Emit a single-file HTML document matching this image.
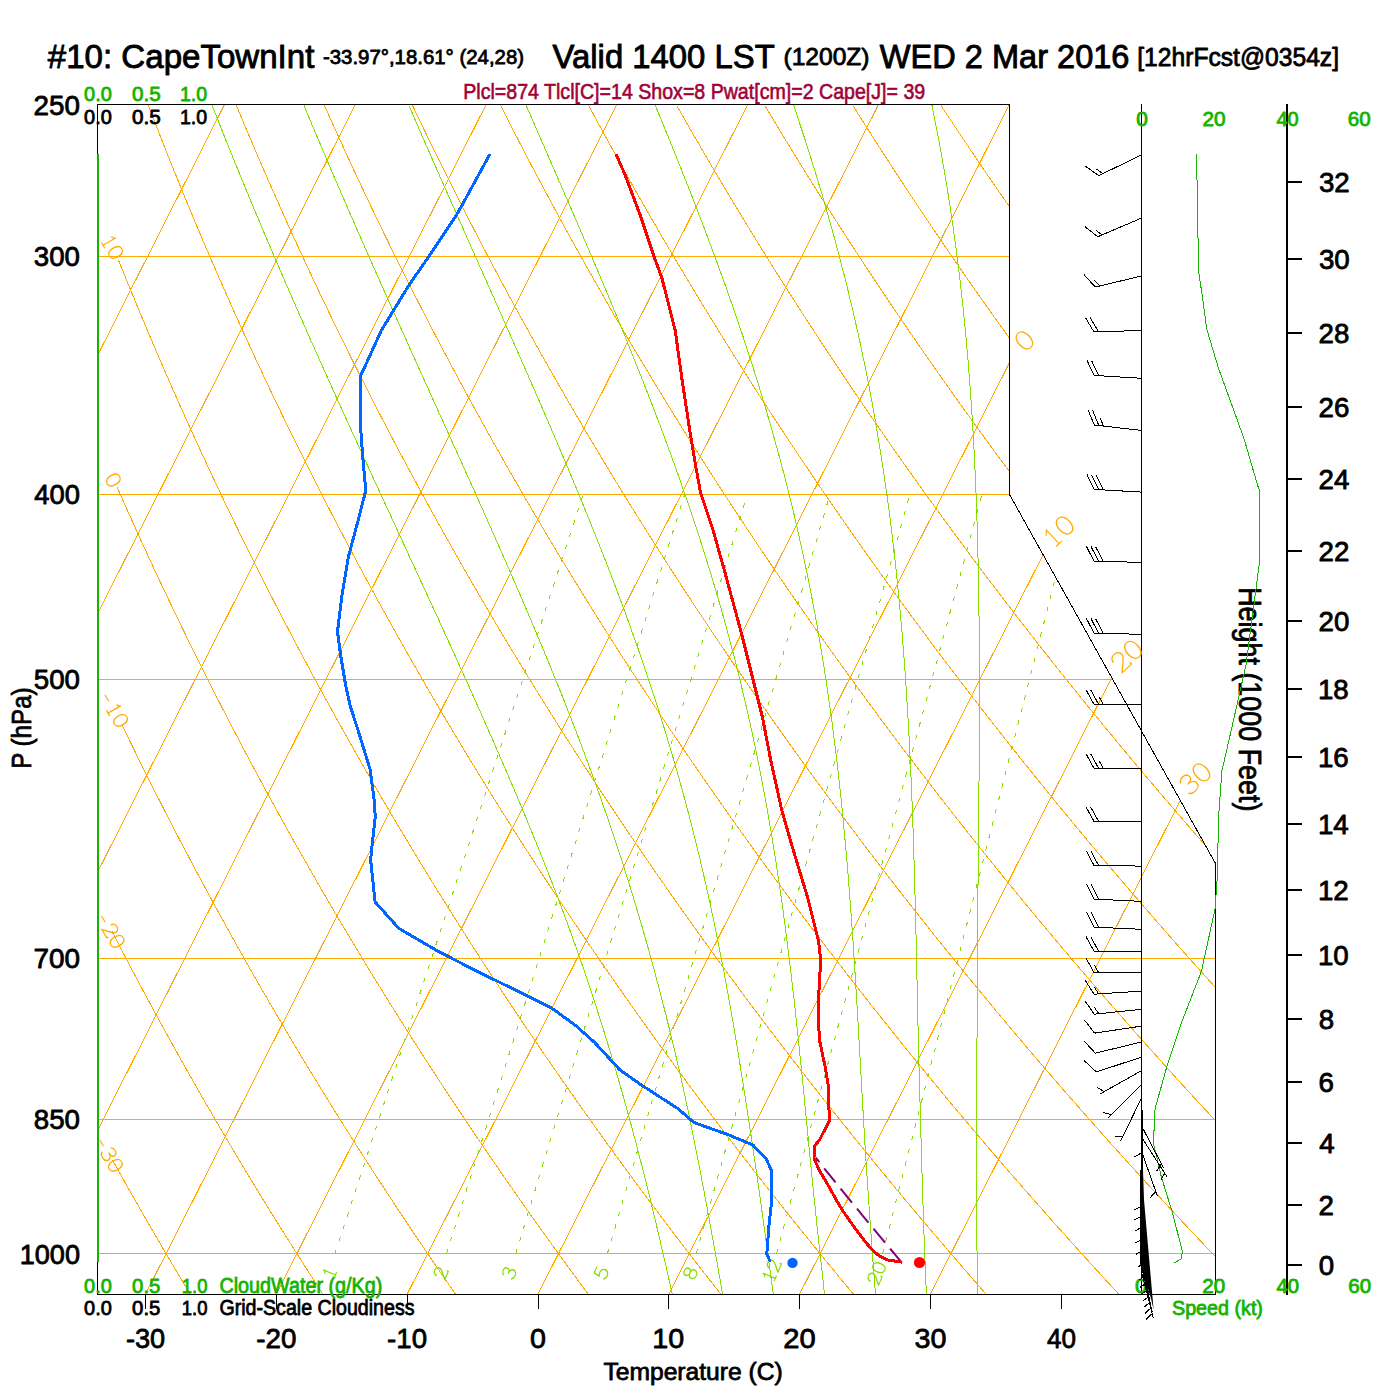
<!DOCTYPE html><html><head><meta charset="utf-8"><style>html,body{margin:0;padding:0;background:#fff;width:1400px;height:1400px;overflow:hidden}svg{display:block}text{font-family:"Liberation Sans",sans-serif}.sf{font-family:"Liberation Serif",serif}</style></head><body>
<svg width="1400" height="1400" viewBox="0 0 1400 1400">
<rect width="1400" height="1400" fill="#fff"/>
<defs><clipPath id="fc"><polygon points="97.5,104.5 1009.5,104.5 1009.5,494.5 1215.5,863.5 1215.5,1294.5 97.5,1294.5"/></clipPath></defs>
<g clip-path="url(#fc)" fill="none" stroke-width="1" shape-rendering="crispEdges">
<line x1="97.5" y1="256.5" x2="1215.5" y2="256.5" stroke="#FFAA00"/>
<line x1="97.5" y1="494.5" x2="1215.5" y2="494.5" stroke="#FFAA00"/>
<line x1="97.5" y1="679.5" x2="1215.5" y2="679.5" stroke="#FFAA00"/>
<line x1="97.5" y1="958.5" x2="1215.5" y2="958.5" stroke="#FFAA00"/>
<line x1="97.5" y1="1119.5" x2="1215.5" y2="1119.5" stroke="#FFAA00"/>
<line x1="97.5" y1="1253.5" x2="1215.5" y2="1253.5" stroke="#FFAA00"/>
<line x1="-512.77" y1="1302.73" x2="97.67" y2="96.75" stroke="#FFAA00"/>
<line x1="-381.97" y1="1302.73" x2="228.47" y2="96.75" stroke="#FFAA00"/>
<line x1="-251.17" y1="1302.73" x2="359.27" y2="96.75" stroke="#FFAA00"/>
<line x1="-120.37" y1="1302.73" x2="490.07" y2="96.75" stroke="#FFAA00"/>
<line x1="10.43" y1="1302.73" x2="620.87" y2="96.75" stroke="#FFAA00"/>
<line x1="141.23" y1="1302.73" x2="751.67" y2="96.75" stroke="#FFAA00"/>
<line x1="272.03" y1="1302.73" x2="882.47" y2="96.75" stroke="#FFAA00"/>
<line x1="402.83" y1="1302.73" x2="1013.27" y2="96.75" stroke="#FFAA00"/>
<line x1="533.63" y1="1302.73" x2="1144.07" y2="96.75" stroke="#FFAA00"/>
<line x1="664.43" y1="1302.73" x2="1274.87" y2="96.75" stroke="#FFAA00"/>
<line x1="795.23" y1="1302.73" x2="1405.67" y2="96.75" stroke="#FFAA00"/>
<line x1="926.03" y1="1302.73" x2="1536.47" y2="96.75" stroke="#FFAA00"/>
<polyline points="204.44,1317.39 202.09,1313.54 199.72,1309.68 197.36,1305.8 194.98,1301.91 192.6,1297.99 190.22,1294.06 187.83,1290.1 185.44,1286.13 183.04,1282.14 180.63,1278.13 178.22,1274.1 175.8,1270.05 173.38,1265.98 170.95,1261.88 168.52,1257.77 166.08,1253.64 163.63,1249.49 161.18,1245.32 158.73,1241.12 156.26,1236.91 153.79,1232.67 151.32,1228.41 148.84,1224.13 146.35,1219.83 143.86,1215.51 141.36,1211.16 138.86,1206.79 136.35,1202.39 133.83,1197.98 131.31,1193.53 128.78,1189.07 126.24,1184.58 123.7,1180.07 121.15,1175.53 118.6,1170.96 116.04,1166.38 113.47,1161.76 112.5,1160.02" stroke="#FFAA00"/>
<polyline points="338.15,1317.39 335.61,1313.54 333.07,1309.68 330.53,1305.8 327.98,1301.91 325.42,1297.99 322.85,1294.06 320.28,1290.1 317.71,1286.13 315.13,1282.14 312.54,1278.13 309.94,1274.1 307.34,1270.05 304.74,1265.98 302.12,1261.88 299.5,1257.77 296.88,1253.64 294.25,1249.49 291.61,1245.32 288.96,1241.12 286.31,1236.91 283.65,1232.67 280.99,1228.41 278.32,1224.13 275.64,1219.83 272.95,1215.51 270.26,1211.16 267.56,1206.79 264.86,1202.39 262.15,1197.98 259.43,1193.53 256.7,1189.07 253.97,1184.58 251.23,1180.07 248.48,1175.53 245.72,1170.96 242.96,1166.38 240.19,1161.76 237.42,1157.12 234.63,1152.45 231.84,1147.76 229.04,1143.04 226.24,1138.3 223.42,1133.52 220.6,1128.72 217.77,1123.89 214.93,1119.03 212.09,1114.15 209.24,1109.23 206.38,1104.29 203.51,1099.31 200.63,1094.31 197.75,1089.27 194.85,1084.2 191.95,1079.11 189.04,1073.98 186.13,1068.82 183.2,1063.63 180.27,1058.4 177.32,1053.14 174.37,1047.85 171.41,1042.52 168.44,1037.16 165.46,1031.76 162.48,1026.33 159.48,1020.87 156.48,1015.36 153.47,1009.82 150.44,1004.24 147.41,998.63 144.37,992.98 141.32,987.28 138.26,981.55 135.19,975.78 132.12,969.97 129.03,964.11 125.93,958.22 122.82,952.28 119.71,946.3 116.58,940.28 113.44,934.21 112.1,931.61" stroke="#FFAA00"/>
<polyline points="471.85,1317.39 469.14,1313.54 466.42,1309.68 463.7,1305.8 460.97,1301.91 458.23,1297.99 455.49,1294.06 452.74,1290.1 449.98,1286.13 447.22,1282.14 444.45,1278.13 441.67,1274.1 438.88,1270.05 436.09,1265.98 433.3,1261.88 430.49,1257.77 427.68,1253.64 424.86,1249.49 422.03,1245.32 419.2,1241.12 416.36,1236.91 413.51,1232.67 410.66,1228.41 407.79,1224.13 404.92,1219.83 402.05,1215.51 399.16,1211.16 396.27,1206.79 393.37,1202.39 390.46,1197.98 387.55,1193.53 384.62,1189.07 381.69,1184.58 378.75,1180.07 375.81,1175.53 372.85,1170.96 369.89,1166.38 366.92,1161.76 363.94,1157.12 360.95,1152.45 357.96,1147.76 354.95,1143.04 351.94,1138.3 348.92,1133.52 345.89,1128.72 342.85,1123.89 339.81,1119.03 336.75,1114.15 333.69,1109.23 330.61,1104.29 327.53,1099.31 324.44,1094.31 321.34,1089.27 318.24,1084.2 315.12,1079.11 311.99,1073.98 308.86,1068.82 305.71,1063.63 302.56,1058.4 299.39,1053.14 296.22,1047.85 293.03,1042.52 289.84,1037.16 286.64,1031.76 283.42,1026.33 280.2,1020.87 276.97,1015.36 273.73,1009.82 270.47,1004.24 267.21,998.63 263.94,992.98 260.65,987.28 257.36,981.55 254.05,975.78 250.73,969.97 247.41,964.11 244.07,958.22 240.72,952.28 237.36,946.3 233.99,940.28 230.61,934.21 227.22,928.09 223.81,921.94 220.39,915.73 216.97,909.48 213.53,903.18 210.08,896.84 206.61,890.44 203.14,883.99 199.65,877.5 196.15,870.95 192.64,864.35 189.11,857.7 185.57,850.99 182.03,844.23 178.46,837.41 174.89,830.54 171.3,823.61 167.7,816.62 164.08,809.57 160.45,802.46 156.81,795.29 153.16,788.05 149.49,780.75 145.8,773.39 142.11,765.96 138.39,758.47 134.67,750.9 130.93,743.27 127.17,735.56 123.41,727.79 121.9,724.67" stroke="#FFAA00"/>
<polyline points="605.56,1317.39 602.67,1313.54 599.77,1309.68 596.87,1305.8 593.96,1301.91 591.05,1297.99 588.12,1294.06 585.19,1290.1 582.25,1286.13 579.31,1282.14 576.35,1278.13 573.39,1274.1 570.43,1270.05 567.45,1265.98 564.47,1261.88 561.48,1257.77 558.48,1253.64 555.47,1249.49 552.46,1245.32 549.44,1241.12 546.41,1236.91 543.37,1232.67 540.32,1228.41 537.27,1224.13 534.21,1219.83 531.14,1215.51 528.06,1211.16 524.97,1206.79 521.88,1202.39 518.78,1197.98 515.66,1193.53 512.54,1189.07 509.41,1184.58 506.28,1180.07 503.13,1175.53 499.98,1170.96 496.81,1166.38 493.64,1161.76 490.46,1157.12 487.27,1152.45 484.07,1147.76 480.86,1143.04 477.64,1138.3 474.42,1133.52 471.18,1128.72 467.93,1123.89 464.68,1119.03 461.41,1114.15 458.14,1109.23 454.85,1104.29 451.56,1099.31 448.26,1094.31 444.94,1089.27 441.62,1084.2 438.28,1079.11 434.94,1073.98 431.58,1068.82 428.22,1063.63 424.84,1058.4 421.46,1053.14 418.06,1047.85 414.66,1042.52 411.24,1037.16 407.81,1031.76 404.37,1026.33 400.92,1020.87 397.46,1015.36 393.99,1009.82 390.5,1004.24 387.01,998.63 383.5,992.98 379.98,987.28 376.45,981.55 372.91,975.78 369.35,969.97 365.79,964.11 362.21,958.22 358.62,952.28 355.02,946.3 351.4,940.28 347.78,934.21 344.14,928.09 340.48,921.94 336.82,915.73 333.14,909.48 329.45,903.18 325.74,896.84 322.02,890.44 318.29,883.99 314.55,877.5 310.79,870.95 307.02,864.35 303.23,857.7 299.43,850.99 295.61,844.23 291.79,837.41 287.94,830.54 284.08,823.61 280.21,816.62 276.32,809.57 272.42,802.46 268.5,795.29 264.57,788.05 260.62,780.75 256.65,773.39 252.67,765.96 248.68,758.47 244.66,750.9 240.64,743.27 236.59,735.56 232.53,727.79 228.45,719.94 224.35,712.01 220.24,704.01 216.11,695.93 211.96,687.77 207.8,679.52 203.61,671.2 199.41,662.79 195.19,654.3 190.96,645.71 186.7,637.04 182.42,628.27 178.13,619.42 173.82,610.46 169.48,601.41 165.13,592.26 160.76,583 156.36,573.64 151.95,564.18 147.52,554.6 143.06,544.91 138.59,535.11 134.09,525.19 129.57,515.15 125.03,504.99 120.47,494.7 117.3,487.5" stroke="#FFAA00"/>
<polyline points="739.26,1317.39 736.2,1313.54 733.12,1309.68 730.04,1305.8 726.96,1301.91 723.86,1297.99 720.76,1294.06 717.64,1290.1 714.53,1286.13 711.4,1282.14 708.26,1278.13 705.12,1274.1 701.97,1270.05 698.81,1265.98 695.64,1261.88 692.46,1257.77 689.28,1253.64 686.08,1249.49 682.88,1245.32 679.67,1241.12 676.45,1236.91 673.23,1232.67 669.99,1228.41 666.75,1224.13 663.49,1219.83 660.23,1215.51 656.96,1211.16 653.68,1206.79 650.39,1202.39 647.09,1197.98 643.78,1193.53 640.47,1189.07 637.14,1184.58 633.8,1180.07 630.46,1175.53 627.1,1170.96 623.74,1166.38 620.36,1161.76 616.98,1157.12 613.59,1152.45 610.18,1147.76 606.77,1143.04 603.35,1138.3 599.91,1133.52 596.47,1128.72 593.01,1123.89 589.55,1119.03 586.07,1114.15 582.59,1109.23 579.09,1104.29 575.58,1099.31 572.07,1094.31 568.54,1089.27 565,1084.2 561.45,1079.11 557.89,1073.98 554.31,1068.82 550.73,1063.63 547.13,1058.4 543.53,1053.14 539.91,1047.85 536.28,1042.52 532.64,1037.16 528.98,1031.76 525.32,1026.33 521.64,1020.87 517.95,1015.36 514.24,1009.82 510.53,1004.24 506.8,998.63 503.06,992.98 499.31,987.28 495.54,981.55 491.77,975.78 487.97,969.97 484.17,964.11 480.35,958.22 476.52,952.28 472.67,946.3 468.82,940.28 464.94,934.21 461.06,928.09 457.16,921.94 453.24,915.73 449.31,909.48 445.37,903.18 441.41,896.84 437.44,890.44 433.45,883.99 429.45,877.5 425.43,870.95 421.4,864.35 417.35,857.7 413.28,850.99 409.2,844.23 405.11,837.41 401,830.54 396.87,823.61 392.72,816.62 388.56,809.57 384.39,802.46 380.19,795.29 375.98,788.05 371.75,780.75 367.5,773.39 363.24,765.96 358.96,758.47 354.66,750.9 350.34,743.27 346.01,735.56 341.65,727.79 337.28,719.94 332.88,712.01 328.47,704.01 324.04,695.93 319.59,687.77 315.12,679.52 310.63,671.2 306.12,662.79 301.59,654.3 297.03,645.71 292.46,637.04 287.87,628.27 283.25,619.42 278.61,610.46 273.95,601.41 269.27,592.26 264.57,583 259.84,573.64 255.09,564.18 250.32,554.6 245.52,544.91 240.7,535.11 235.86,525.19 230.99,515.15 226.09,504.99 221.17,494.7 216.23,484.28 211.26,473.73 206.26,463.04 201.24,452.21 196.19,441.24 191.11,430.13 186.01,418.86 180.88,407.43 175.72,395.85 170.53,384.1 165.32,372.18 160.07,360.09 154.8,347.82 149.49,335.36 144.16,322.72 138.8,309.88 133.4,296.83 127.97,283.58 122.51,270.11 118.4,259.87" stroke="#FFAA00"/>
<polyline points="872.97,1317.39 869.73,1313.54 866.48,1309.68 863.22,1305.8 859.95,1301.91 856.67,1297.99 853.39,1294.06 850.1,1290.1 846.8,1286.13 843.49,1282.14 840.17,1278.13 836.84,1274.1 833.51,1270.05 830.16,1265.98 826.81,1261.88 823.45,1257.77 820.08,1253.64 816.7,1249.49 813.31,1245.32 809.91,1241.12 806.5,1236.91 803.09,1232.67 799.66,1228.41 796.22,1224.13 792.78,1219.83 789.32,1215.51 785.86,1211.16 782.38,1206.79 778.9,1202.39 775.41,1197.98 771.9,1193.53 768.39,1189.07 764.86,1184.58 761.33,1180.07 757.78,1175.53 754.23,1170.96 750.66,1166.38 747.09,1161.76 743.5,1157.12 739.9,1152.45 736.3,1147.76 732.68,1143.04 729.05,1138.3 725.41,1133.52 721.76,1128.72 718.09,1123.89 714.42,1119.03 710.74,1114.15 707.04,1109.23 703.33,1104.29 699.61,1099.31 695.88,1094.31 692.14,1089.27 688.38,1084.2 684.61,1079.11 680.83,1073.98 677.04,1068.82 673.24,1063.63 669.42,1058.4 665.6,1053.14 661.75,1047.85 657.9,1042.52 654.03,1037.16 650.15,1031.76 646.26,1026.33 642.36,1020.87 638.44,1015.36 634.5,1009.82 630.56,1004.24 626.6,998.63 622.63,992.98 618.64,987.28 614.64,981.55 610.62,975.78 606.59,969.97 602.55,964.11 598.49,958.22 594.42,952.28 590.33,946.3 586.23,940.28 582.11,934.21 577.98,928.09 573.83,921.94 569.66,915.73 565.48,909.48 561.29,903.18 557.08,896.84 552.85,890.44 548.61,883.99 544.35,877.5 540.07,870.95 535.78,864.35 531.47,857.7 527.14,850.99 522.79,844.23 518.43,837.41 514.05,830.54 509.65,823.61 505.24,816.62 500.8,809.57 496.35,802.46 491.88,795.29 487.39,788.05 482.88,780.75 478.36,773.39 473.81,765.96 469.24,758.47 464.65,750.9 460.05,743.27 455.42,735.56 450.77,727.79 446.1,719.94 441.41,712.01 436.7,704.01 431.97,695.93 427.22,687.77 422.44,679.52 417.64,671.2 412.82,662.79 407.98,654.3 403.11,645.71 398.22,637.04 393.31,628.27 388.37,619.42 383.41,610.46 378.43,601.41 373.42,592.26 368.38,583 363.32,573.64 358.23,564.18 353.12,554.6 347.98,544.91 342.81,535.11 337.62,525.19 332.4,515.15 327.15,504.99 321.87,494.7 316.57,484.28 311.23,473.73 305.87,463.04 300.48,452.21 295.05,441.24 289.6,430.13 284.11,418.86 278.6,407.43 273.05,395.85 267.47,384.1 261.86,372.18 256.21,360.09 250.53,347.82 244.82,335.36 239.07,322.72 233.28,309.88 227.46,296.83 221.61,283.58 215.72,270.11 209.79,256.42 203.82,242.5 197.82,228.34 191.77,213.93 185.69,199.27 179.57,184.35 173.4,169.15 167.2,153.67 160.96,137.89 154.67,121.81 148.34,105.41" stroke="#FFAA00"/>
<polyline points="1006.67,1317.39 1003.25,1313.54 999.83,1309.68 996.39,1305.8 992.94,1301.91 989.49,1297.99 986.02,1294.06 982.55,1290.1 979.07,1286.13 975.58,1282.14 972.08,1278.13 968.57,1274.1 965.05,1270.05 961.52,1265.98 957.98,1261.88 954.44,1257.77 950.88,1253.64 947.31,1249.49 943.73,1245.32 940.15,1241.12 936.55,1236.91 932.94,1232.67 929.33,1228.41 925.7,1224.13 922.06,1219.83 918.41,1215.51 914.76,1211.16 911.09,1206.79 907.41,1202.39 903.72,1197.98 900.02,1193.53 896.31,1189.07 892.59,1184.58 888.85,1180.07 885.11,1175.53 881.36,1170.96 877.59,1166.38 873.81,1161.76 870.02,1157.12 866.22,1152.45 862.41,1147.76 858.59,1143.04 854.75,1138.3 850.9,1133.52 847.05,1128.72 843.17,1123.89 839.29,1119.03 835.4,1114.15 831.49,1109.23 827.57,1104.29 823.64,1099.31 819.69,1094.31 815.73,1089.27 811.76,1084.2 807.78,1079.11 803.78,1073.98 799.77,1068.82 795.75,1063.63 791.71,1058.4 787.66,1053.14 783.6,1047.85 779.52,1042.52 775.43,1037.16 771.33,1031.76 767.21,1026.33 763.07,1020.87 758.93,1015.36 754.76,1009.82 750.59,1004.24 746.4,998.63 742.19,992.98 737.97,987.28 733.73,981.55 729.48,975.78 725.21,969.97 720.93,964.11 716.63,958.22 712.32,952.28 707.99,946.3 703.64,940.28 699.28,934.21 694.9,928.09 690.5,921.94 686.09,915.73 681.66,909.48 677.21,903.18 672.75,896.84 668.26,890.44 663.76,883.99 659.25,877.5 654.71,870.95 650.16,864.35 645.58,857.7 640.99,850.99 636.38,844.23 631.75,837.41 627.11,830.54 622.44,823.61 617.75,816.62 613.05,809.57 608.32,802.46 603.57,795.29 598.8,788.05 594.02,780.75 589.21,773.39 584.38,765.96 579.52,758.47 574.65,750.9 569.75,743.27 564.84,735.56 559.89,727.79 554.93,719.94 549.95,712.01 544.94,704.01 539.9,695.93 534.85,687.77 529.76,679.52 524.66,671.2 519.53,662.79 514.37,654.3 509.19,645.71 503.99,637.04 498.75,628.27 493.5,619.42 488.21,610.46 482.9,601.41 477.56,592.26 472.19,583 466.8,573.64 461.37,564.18 455.92,554.6 450.44,544.91 444.93,535.11 439.38,525.19 433.81,515.15 428.21,504.99 422.57,494.7 416.91,484.28 411.21,473.73 405.48,463.04 399.71,452.21 393.92,441.24 388.08,430.13 382.22,418.86 376.32,407.43 370.38,395.85 364.4,384.1 358.39,372.18 352.35,360.09 346.26,347.82 340.14,335.36 333.97,322.72 327.77,309.88 321.53,296.83 315.24,283.58 308.92,270.11 302.55,256.42 296.14,242.5 289.68,228.34 283.19,213.93 276.64,199.27 270.05,184.35 263.42,169.15 256.74,153.67 250.01,137.89 243.23,121.81 236.4,105.41" stroke="#FFAA00"/>
<polyline points="1140.38,1317.39 1136.78,1313.54 1133.18,1309.68 1129.56,1305.8 1125.94,1301.91 1122.3,1297.99 1118.66,1294.06 1115.01,1290.1 1111.34,1286.13 1107.67,1282.14 1103.99,1278.13 1100.29,1274.1 1096.59,1270.05 1092.88,1265.98 1089.16,1261.88 1085.42,1257.77 1081.68,1253.64 1077.92,1249.49 1074.16,1245.32 1070.38,1241.12 1066.6,1236.91 1062.8,1232.67 1058.99,1228.41 1055.18,1224.13 1051.35,1219.83 1047.51,1215.51 1043.66,1211.16 1039.79,1206.79 1035.92,1202.39 1032.03,1197.98 1028.14,1193.53 1024.23,1189.07 1020.31,1184.58 1016.38,1180.07 1012.44,1175.53 1008.48,1170.96 1004.51,1166.38 1000.54,1161.76 996.54,1157.12 992.54,1152.45 988.52,1147.76 984.5,1143.04 980.45,1138.3 976.4,1133.52 972.33,1128.72 968.26,1123.89 964.16,1119.03 960.06,1114.15 955.94,1109.23 951.81,1104.29 947.66,1099.31 943.5,1094.31 939.33,1089.27 935.14,1084.2 930.94,1079.11 926.73,1073.98 922.5,1068.82 918.26,1063.63 914,1058.4 909.73,1053.14 905.45,1047.85 901.15,1042.52 896.83,1037.16 892.5,1031.76 888.15,1026.33 883.79,1020.87 879.42,1015.36 875.02,1009.82 870.62,1004.24 866.19,998.63 861.75,992.98 857.3,987.28 852.83,981.55 848.34,975.78 843.83,969.97 839.31,964.11 834.77,958.22 830.21,952.28 825.64,946.3 821.05,940.28 816.44,934.21 811.82,928.09 807.17,921.94 802.51,915.73 797.83,909.48 793.13,903.18 788.41,896.84 783.68,890.44 778.92,883.99 774.15,877.5 769.35,870.95 764.54,864.35 759.7,857.7 754.85,850.99 749.97,844.23 745.08,837.41 740.16,830.54 735.22,823.61 730.27,816.62 725.29,809.57 720.29,802.46 715.26,795.29 710.22,788.05 705.15,780.75 700.06,773.39 694.94,765.96 689.8,758.47 684.64,750.9 679.46,743.27 674.25,735.56 669.02,727.79 663.76,719.94 658.48,712.01 653.17,704.01 647.83,695.93 642.47,687.77 637.09,679.52 631.67,671.2 626.23,662.79 620.77,654.3 615.27,645.71 609.75,637.04 604.2,628.27 598.62,619.42 593.01,610.46 587.37,601.41 581.7,592.26 576,583 570.27,573.64 564.51,564.18 558.72,554.6 552.9,544.91 547.04,535.11 541.15,525.19 535.22,515.15 529.27,504.99 523.27,494.7 517.25,484.28 511.18,473.73 505.09,463.04 498.95,452.21 492.78,441.24 486.57,430.13 480.32,418.86 474.03,407.43 467.71,395.85 461.34,384.1 454.93,372.18 448.48,360.09 441.99,347.82 435.46,335.36 428.88,322.72 422.26,309.88 415.59,296.83 408.88,283.58 402.12,270.11 395.31,256.42 388.46,242.5 381.55,228.34 374.6,213.93 367.6,199.27 360.54,184.35 353.43,169.15 346.27,153.67 339.06,137.89 331.79,121.81 324.46,105.41" stroke="#FFAA00"/>
<polyline points="1274.08,1317.39 1270.31,1313.54 1266.53,1309.68 1262.73,1305.8 1258.93,1301.91 1255.12,1297.99 1251.29,1294.06 1247.46,1290.1 1243.62,1286.13 1239.76,1282.14 1235.9,1278.13 1232.02,1274.1 1228.13,1270.05 1224.24,1265.98 1220.33,1261.88 1216.41,1257.77 1212.48,1253.64 1208.54,1249.49 1204.58,1245.32 1200.62,1241.12 1196.65,1236.91 1192.66,1232.67 1188.66,1228.41 1184.65,1224.13 1180.63,1219.83 1176.6,1215.51 1172.56,1211.16 1168.5,1206.79 1164.43,1202.39 1160.35,1197.98 1156.26,1193.53 1152.15,1189.07 1148.03,1184.58 1143.9,1180.07 1139.76,1175.53 1135.61,1170.96 1131.44,1166.38 1127.26,1161.76 1123.06,1157.12 1118.86,1152.45 1114.64,1147.76 1110.4,1143.04 1106.16,1138.3 1101.9,1133.52 1097.62,1128.72 1093.34,1123.89 1089.03,1119.03 1084.72,1114.15 1080.39,1109.23 1076.05,1104.29 1071.69,1099.31 1067.32,1094.31 1062.93,1089.27 1058.53,1084.2 1054.11,1079.11 1049.68,1073.98 1045.23,1068.82 1040.77,1063.63 1036.29,1058.4 1031.8,1053.14 1027.29,1047.85 1022.77,1042.52 1018.23,1037.16 1013.67,1031.76 1009.1,1026.33 1004.51,1020.87 999.91,1015.36 995.28,1009.82 990.64,1004.24 985.99,998.63 981.32,992.98 976.63,987.28 971.92,981.55 967.19,975.78 962.45,969.97 957.69,964.11 952.91,958.22 948.11,952.28 943.3,946.3 938.46,940.28 933.61,934.21 928.74,928.09 923.84,921.94 918.93,915.73 914,909.48 909.05,903.18 904.08,896.84 899.09,890.44 894.08,883.99 889.04,877.5 883.99,870.95 878.92,864.35 873.82,857.7 868.7,850.99 863.56,844.23 858.4,837.41 853.22,830.54 848.01,823.61 842.78,816.62 837.53,809.57 832.25,802.46 826.95,795.29 821.63,788.05 816.28,780.75 810.91,773.39 805.51,765.96 800.09,758.47 794.64,750.9 789.17,743.27 783.67,735.56 778.14,727.79 772.59,719.94 767.01,712.01 761.4,704.01 755.76,695.93 750.1,687.77 744.41,679.52 738.69,671.2 732.94,662.79 727.16,654.3 721.35,645.71 715.51,637.04 709.64,628.27 703.74,619.42 697.81,610.46 691.84,601.41 685.85,592.26 679.82,583 673.75,573.64 667.65,564.18 661.52,554.6 655.35,544.91 649.15,535.11 642.91,525.19 636.64,515.15 630.32,504.99 623.98,494.7 617.59,484.28 611.16,473.73 604.69,463.04 598.19,452.21 591.64,441.24 585.05,430.13 578.42,418.86 571.75,407.43 565.03,395.85 558.27,384.1 551.47,372.18 544.62,360.09 537.72,347.82 530.78,335.36 523.78,322.72 516.74,309.88 509.65,296.83 502.51,283.58 495.32,270.11 488.07,256.42 480.78,242.5 473.42,228.34 466.02,213.93 458.55,199.27 451.03,184.35 443.45,169.15 435.81,153.67 428.11,137.89 420.34,121.81 412.52,105.41" stroke="#FFAA00"/>
<polyline points="1407.79,1317.39 1403.84,1313.54 1399.88,1309.68 1395.91,1305.8 1391.92,1301.91 1387.93,1297.99 1383.93,1294.06 1379.91,1290.1 1375.89,1286.13 1371.85,1282.14 1367.8,1278.13 1363.74,1274.1 1359.67,1270.05 1355.59,1265.98 1351.5,1261.88 1347.39,1257.77 1343.28,1253.64 1339.15,1249.49 1335.01,1245.32 1330.86,1241.12 1326.69,1236.91 1322.52,1232.67 1318.33,1228.41 1314.13,1224.13 1309.92,1219.83 1305.69,1215.51 1301.45,1211.16 1297.2,1206.79 1292.94,1202.39 1288.66,1197.98 1284.38,1193.53 1280.07,1189.07 1275.76,1184.58 1271.43,1180.07 1267.09,1175.53 1262.73,1170.96 1258.36,1166.38 1253.98,1161.76 1249.59,1157.12 1245.18,1152.45 1240.75,1147.76 1236.31,1143.04 1231.86,1138.3 1227.39,1133.52 1222.91,1128.72 1218.42,1123.89 1213.91,1119.03 1209.38,1114.15 1204.84,1109.23 1200.28,1104.29 1195.71,1099.31 1191.13,1094.31 1186.53,1089.27 1181.91,1084.2 1177.28,1079.11 1172.63,1073.98 1167.96,1068.82 1163.28,1063.63 1158.58,1058.4 1153.87,1053.14 1149.14,1047.85 1144.39,1042.52 1139.63,1037.16 1134.84,1031.76 1130.04,1026.33 1125.23,1020.87 1120.39,1015.36 1115.54,1009.82 1110.67,1004.24 1105.79,998.63 1100.88,992.98 1095.96,987.28 1091.01,981.55 1086.05,975.78 1081.07,969.97 1076.07,964.11 1071.05,958.22 1066.01,952.28 1060.95,946.3 1055.87,940.28 1050.78,934.21 1045.66,928.09 1040.52,921.94 1035.36,915.73 1030.17,909.48 1024.97,903.18 1019.75,896.84 1014.5,890.44 1009.23,883.99 1003.94,877.5 998.63,870.95 993.3,864.35 987.94,857.7 982.56,850.99 977.15,844.23 971.72,837.41 966.27,830.54 960.8,823.61 955.29,816.62 949.77,809.57 944.22,802.46 938.64,795.29 933.04,788.05 927.41,780.75 921.76,773.39 916.08,765.96 910.37,758.47 904.63,750.9 898.87,743.27 893.08,735.56 887.26,727.79 881.41,719.94 875.54,712.01 869.63,704.01 863.7,695.93 857.73,687.77 851.73,679.52 845.7,671.2 839.65,662.79 833.55,654.3 827.43,645.71 821.28,637.04 815.09,628.27 808.86,619.42 802.61,610.46 796.32,601.41 789.99,592.26 783.63,583 777.23,573.64 770.79,564.18 764.32,554.6 757.81,544.91 751.26,535.11 744.68,525.19 738.05,515.15 731.38,504.99 724.68,494.7 717.93,484.28 711.14,473.73 704.3,463.04 697.42,452.21 690.5,441.24 683.54,430.13 676.53,418.86 669.47,407.43 662.36,395.85 655.21,384.1 648.01,372.18 640.75,360.09 633.45,347.82 626.1,335.36 618.69,322.72 611.23,309.88 603.72,296.83 596.15,283.58 588.52,270.11 580.84,256.42 573.09,242.5 565.29,228.34 557.43,213.93 549.5,199.27 541.52,184.35 533.46,169.15 525.34,153.67 517.16,137.89 508.9,121.81 500.58,105.41" stroke="#FFAA00"/>
<polyline points="1541.49,1317.39 1537.37,1313.54 1533.23,1309.68 1529.08,1305.8 1524.92,1301.91 1520.75,1297.99 1516.56,1294.06 1512.37,1290.1 1508.16,1286.13 1503.94,1282.14 1499.71,1278.13 1495.47,1274.1 1491.22,1270.05 1486.95,1265.98 1482.67,1261.88 1478.38,1257.77 1474.08,1253.64 1469.76,1249.49 1465.44,1245.32 1461.1,1241.12 1456.74,1236.91 1452.38,1232.67 1448,1228.41 1443.61,1224.13 1439.2,1219.83 1434.78,1215.51 1430.35,1211.16 1425.91,1206.79 1421.45,1202.39 1416.98,1197.98 1412.49,1193.53 1408,1189.07 1403.48,1184.58 1398.96,1180.07 1394.41,1175.53 1389.86,1170.96 1385.29,1166.38 1380.71,1161.76 1376.11,1157.12 1371.49,1152.45 1366.87,1147.76 1362.22,1143.04 1357.56,1138.3 1352.89,1133.52 1348.2,1128.72 1343.5,1123.89 1338.78,1119.03 1334.04,1114.15 1329.29,1109.23 1324.52,1104.29 1319.74,1099.31 1314.94,1094.31 1310.12,1089.27 1305.29,1084.2 1300.44,1079.11 1295.57,1073.98 1290.69,1068.82 1285.79,1063.63 1280.87,1058.4 1275.94,1053.14 1270.98,1047.85 1266.01,1042.52 1261.02,1037.16 1256.02,1031.76 1250.99,1026.33 1245.95,1020.87 1240.88,1015.36 1235.8,1009.82 1230.7,1004.24 1225.58,998.63 1220.44,992.98 1215.28,987.28 1210.11,981.55 1204.91,975.78 1199.69,969.97 1194.45,964.11 1189.19,958.22 1183.91,952.28 1178.61,946.3 1173.29,940.28 1167.94,934.21 1162.58,928.09 1157.19,921.94 1151.78,915.73 1146.35,909.48 1140.89,903.18 1135.42,896.84 1129.91,890.44 1124.39,883.99 1118.84,877.5 1113.27,870.95 1107.68,864.35 1102.06,857.7 1096.41,850.99 1090.74,844.23 1085.05,837.41 1079.33,830.54 1073.58,823.61 1067.81,816.62 1062.01,809.57 1056.18,802.46 1050.33,795.29 1044.45,788.05 1038.54,780.75 1032.61,773.39 1026.64,765.96 1020.65,758.47 1014.63,750.9 1008.58,743.27 1002.5,735.56 996.38,727.79 990.24,719.94 984.07,712.01 977.86,704.01 971.63,695.93 965.36,687.77 959.05,679.52 952.72,671.2 946.35,662.79 939.95,654.3 933.51,645.71 927.04,637.04 920.53,628.27 913.99,619.42 907.41,610.46 900.79,601.41 894.13,592.26 887.44,583 880.71,573.64 873.93,564.18 867.12,554.6 860.27,544.91 853.38,535.11 846.44,525.19 839.46,515.15 832.44,504.99 825.38,494.7 818.27,484.28 811.11,473.73 803.91,463.04 796.66,452.21 789.37,441.24 782.02,430.13 774.63,418.86 767.18,407.43 759.69,395.85 752.14,384.1 744.54,372.18 736.89,360.09 729.18,347.82 721.42,335.36 713.6,322.72 705.72,309.88 697.78,296.83 689.78,283.58 681.72,270.11 673.6,256.42 665.41,242.5 657.16,228.34 648.84,213.93 640.46,199.27 632,184.35 623.48,169.15 614.88,153.67 606.21,137.89 597.46,121.81 588.64,105.41" stroke="#FFAA00"/>
<polyline points="1675.2,1317.39 1670.89,1313.54 1666.58,1309.68 1662.25,1305.8 1657.91,1301.91 1653.56,1297.99 1649.2,1294.06 1644.82,1290.1 1640.43,1286.13 1636.03,1282.14 1631.62,1278.13 1627.19,1274.1 1622.76,1270.05 1618.31,1265.98 1613.84,1261.88 1609.37,1257.77 1604.88,1253.64 1600.38,1249.49 1595.86,1245.32 1591.33,1241.12 1586.79,1236.91 1582.23,1232.67 1577.67,1228.41 1573.08,1224.13 1568.49,1219.83 1563.88,1215.51 1559.25,1211.16 1554.61,1206.79 1549.96,1202.39 1545.29,1197.98 1540.61,1193.53 1535.92,1189.07 1531.21,1184.58 1526.48,1180.07 1521.74,1175.53 1516.99,1170.96 1512.22,1166.38 1507.43,1161.76 1502.63,1157.12 1497.81,1152.45 1492.98,1147.76 1488.13,1143.04 1483.27,1138.3 1478.39,1133.52 1473.49,1128.72 1468.58,1123.89 1463.65,1119.03 1458.7,1114.15 1453.74,1109.23 1448.76,1104.29 1443.77,1099.31 1438.75,1094.31 1433.72,1089.27 1428.67,1084.2 1423.61,1079.11 1418.52,1073.98 1413.42,1068.82 1408.3,1063.63 1403.16,1058.4 1398,1053.14 1392.83,1047.85 1387.63,1042.52 1382.42,1037.16 1377.19,1031.76 1371.94,1026.33 1366.66,1020.87 1361.37,1015.36 1356.06,1009.82 1350.73,1004.24 1345.38,998.63 1340.01,992.98 1334.61,987.28 1329.2,981.55 1323.77,975.78 1318.31,969.97 1312.83,964.11 1307.33,958.22 1301.81,952.28 1296.27,946.3 1290.7,940.28 1285.11,934.21 1279.5,928.09 1273.86,921.94 1268.2,915.73 1262.52,909.48 1256.81,903.18 1251.08,896.84 1245.33,890.44 1239.55,883.99 1233.74,877.5 1227.91,870.95 1222.06,864.35 1216.17,857.7 1210.27,850.99 1204.33,844.23 1198.37,837.41 1192.38,830.54 1186.37,823.61 1180.32,816.62 1174.25,809.57 1168.15,802.46 1162.02,795.29 1155.86,788.05 1149.68,780.75 1143.46,773.39 1137.21,765.96 1130.93,758.47 1124.62,750.9 1118.28,743.27 1111.91,735.56 1105.51,727.79 1099.07,719.94 1092.6,712.01 1086.09,704.01 1079.56,695.93 1072.98,687.77 1066.38,679.52 1059.73,671.2 1053.06,662.79 1046.34,654.3 1039.59,645.71 1032.8,637.04 1025.97,628.27 1019.11,619.42 1012.2,610.46 1005.26,601.41 998.28,592.26 991.25,583 984.18,573.64 977.07,564.18 969.92,554.6 962.73,544.91 955.49,535.11 948.2,525.19 940.88,515.15 933.5,504.99 926.08,494.7 918.61,484.28 911.09,473.73 903.52,463.04 895.9,452.21 888.23,441.24 880.51,430.13 872.73,418.86 864.9,407.43 857.02,395.85 849.08,384.1 841.08,372.18 833.03,360.09 824.91,347.82 816.74,335.36 808.5,322.72 800.21,309.88 791.84,296.83 783.42,283.58 774.92,270.11 766.36,256.42 757.73,242.5 749.03,228.34 740.26,213.93 731.41,199.27 722.49,184.35 713.49,169.15 704.42,153.67 695.26,137.89 686.02,121.81 676.69,105.41" stroke="#FFAA00"/>
<polyline points="1808.9,1317.39 1804.42,1313.54 1799.93,1309.68 1795.42,1305.8 1790.9,1301.91 1786.37,1297.99 1781.83,1294.06 1777.27,1290.1 1772.7,1286.13 1768.12,1282.14 1763.53,1278.13 1758.92,1274.1 1754.3,1270.05 1749.66,1265.98 1745.02,1261.88 1740.35,1257.77 1735.68,1253.64 1730.99,1249.49 1726.29,1245.32 1721.57,1241.12 1716.84,1236.91 1712.09,1232.67 1707.33,1228.41 1702.56,1224.13 1697.77,1219.83 1692.97,1215.51 1688.15,1211.16 1683.32,1206.79 1678.47,1202.39 1673.61,1197.98 1668.73,1193.53 1663.84,1189.07 1658.93,1184.58 1654.01,1180.07 1649.07,1175.53 1644.11,1170.96 1639.14,1166.38 1634.15,1161.76 1629.15,1157.12 1624.13,1152.45 1619.09,1147.76 1614.04,1143.04 1608.97,1138.3 1603.88,1133.52 1598.78,1128.72 1593.66,1123.89 1588.52,1119.03 1583.36,1114.15 1578.19,1109.23 1573,1104.29 1567.79,1099.31 1562.56,1094.31 1557.32,1089.27 1552.05,1084.2 1546.77,1079.11 1541.47,1073.98 1536.15,1068.82 1530.81,1063.63 1525.45,1058.4 1520.07,1053.14 1514.67,1047.85 1509.26,1042.52 1503.82,1037.16 1498.36,1031.76 1492.88,1026.33 1487.38,1020.87 1481.86,1015.36 1476.32,1009.82 1470.76,1004.24 1465.18,998.63 1459.57,992.98 1453.94,987.28 1448.29,981.55 1442.62,975.78 1436.93,969.97 1431.21,964.11 1425.47,958.22 1419.71,952.28 1413.92,946.3 1408.11,940.28 1402.28,934.21 1396.42,928.09 1390.53,921.94 1384.63,915.73 1378.69,909.48 1372.73,903.18 1366.75,896.84 1360.74,890.44 1354.7,883.99 1348.64,877.5 1342.55,870.95 1336.44,864.35 1330.29,857.7 1324.12,850.99 1317.92,844.23 1311.69,837.41 1305.44,830.54 1299.15,823.61 1292.84,816.62 1286.49,809.57 1280.12,802.46 1273.71,795.29 1267.28,788.05 1260.81,780.75 1254.31,773.39 1247.78,765.96 1241.21,758.47 1234.62,750.9 1227.99,743.27 1221.33,735.56 1214.63,727.79 1207.9,719.94 1201.13,712.01 1194.33,704.01 1187.49,695.93 1180.61,687.77 1173.7,679.52 1166.75,671.2 1159.76,662.79 1152.74,654.3 1145.67,645.71 1138.56,637.04 1131.42,628.27 1124.23,619.42 1117,610.46 1109.73,601.41 1102.42,592.26 1095.06,583 1087.66,573.64 1080.22,564.18 1072.72,554.6 1065.19,544.91 1057.6,535.11 1049.97,525.19 1042.29,515.15 1034.56,504.99 1026.78,494.7 1018.95,484.28 1011.06,473.73 1003.13,463.04 995.14,452.21 987.09,441.24 978.99,430.13 970.83,418.86 962.62,407.43 954.35,395.85 946.01,384.1 937.62,372.18 929.16,360.09 920.64,347.82 912.06,335.36 903.41,322.72 894.69,309.88 885.91,296.83 877.05,283.58 868.12,270.11 859.12,256.42 850.05,242.5 840.9,228.34 831.67,213.93 822.37,199.27 812.98,184.35 803.51,169.15 793.95,153.67 784.31,137.89 774.58,121.81 764.75,105.41" stroke="#FFAA00"/>
<polyline points="1942.61,1317.39 1937.95,1313.54 1933.28,1309.68 1928.59,1305.8 1923.9,1301.91 1919.19,1297.99 1914.46,1294.06 1909.73,1290.1 1904.98,1286.13 1900.21,1282.14 1895.44,1278.13 1890.64,1274.1 1885.84,1270.05 1881.02,1265.98 1876.19,1261.88 1871.34,1257.77 1866.48,1253.64 1861.6,1249.49 1856.71,1245.32 1851.81,1241.12 1846.89,1236.91 1841.95,1232.67 1837,1228.41 1832.04,1224.13 1827.06,1219.83 1822.06,1215.51 1817.05,1211.16 1812.02,1206.79 1806.98,1202.39 1801.92,1197.98 1796.85,1193.53 1791.76,1189.07 1786.65,1184.58 1781.53,1180.07 1776.39,1175.53 1771.24,1170.96 1766.07,1166.38 1760.88,1161.76 1755.67,1157.12 1750.45,1152.45 1745.21,1147.76 1739.95,1143.04 1734.67,1138.3 1729.38,1133.52 1724.07,1128.72 1718.74,1123.89 1713.39,1119.03 1708.03,1114.15 1702.64,1109.23 1697.24,1104.29 1691.82,1099.31 1686.38,1094.31 1680.92,1089.27 1675.44,1084.2 1669.94,1079.11 1664.42,1073.98 1658.88,1068.82 1653.32,1063.63 1647.74,1058.4 1642.14,1053.14 1636.52,1047.85 1630.88,1042.52 1625.22,1037.16 1619.53,1031.76 1613.83,1026.33 1608.1,1020.87 1602.35,1015.36 1596.58,1009.82 1590.79,1004.24 1584.97,998.63 1579.13,992.98 1573.27,987.28 1567.39,981.55 1561.48,975.78 1555.55,969.97 1549.59,964.11 1543.61,958.22 1537.61,952.28 1531.58,946.3 1525.52,940.28 1519.44,934.21 1513.34,928.09 1507.21,921.94 1501.05,915.73 1494.87,909.48 1488.66,903.18 1482.42,896.84 1476.15,890.44 1469.86,883.99 1463.54,877.5 1457.19,870.95 1450.82,864.35 1444.41,857.7 1437.98,850.99 1431.51,844.23 1425.02,837.41 1418.49,830.54 1411.94,823.61 1405.35,816.62 1398.73,809.57 1392.08,802.46 1385.4,795.29 1378.69,788.05 1371.94,780.75 1365.16,773.39 1358.35,765.96 1351.5,758.47 1344.61,750.9 1337.69,743.27 1330.74,735.56 1323.75,727.79 1316.72,719.94 1309.66,712.01 1302.56,704.01 1295.42,695.93 1288.24,687.77 1281.02,679.52 1273.77,671.2 1266.47,662.79 1259.13,654.3 1251.75,645.71 1244.33,637.04 1236.86,628.27 1229.35,619.42 1221.8,610.46 1214.2,601.41 1206.56,592.26 1198.87,583 1191.14,573.64 1183.36,564.18 1175.52,554.6 1167.64,544.91 1159.71,535.11 1151.73,525.19 1143.7,515.15 1135.62,504.99 1127.48,494.7 1119.29,484.28 1111.04,473.73 1102.73,463.04 1094.37,452.21 1085.95,441.24 1077.48,430.13 1068.94,418.86 1060.34,407.43 1051.67,395.85 1042.95,384.1 1034.16,372.18 1025.3,360.09 1016.37,347.82 1007.38,335.36 998.32,322.72 989.18,309.88 979.97,296.83 970.69,283.58 961.33,270.11 951.89,256.42 942.37,242.5 932.77,228.34 923.09,213.93 913.32,199.27 903.47,184.35 893.52,169.15 883.49,153.67 873.36,137.89 863.13,121.81 852.81,105.41" stroke="#FFAA00"/>
<polyline points="2076.31,1317.39 2071.48,1313.54 2066.63,1309.68 2061.77,1305.8 2056.89,1301.91 2052,1297.99 2047.1,1294.06 2042.18,1290.1 2037.25,1286.13 2032.3,1282.14 2027.34,1278.13 2022.37,1274.1 2017.38,1270.05 2012.38,1265.98 2007.36,1261.88 2002.33,1257.77 1997.28,1253.64 1992.22,1249.49 1987.14,1245.32 1982.04,1241.12 1976.93,1236.91 1971.81,1232.67 1966.67,1228.41 1961.51,1224.13 1956.34,1219.83 1951.15,1215.51 1945.95,1211.16 1940.73,1206.79 1935.49,1202.39 1930.24,1197.98 1924.97,1193.53 1919.68,1189.07 1914.38,1184.58 1909.06,1180.07 1903.72,1175.53 1898.36,1170.96 1892.99,1166.38 1887.6,1161.76 1882.19,1157.12 1876.77,1152.45 1871.32,1147.76 1865.86,1143.04 1860.38,1138.3 1854.88,1133.52 1849.36,1128.72 1843.82,1123.89 1838.26,1119.03 1832.69,1114.15 1827.09,1109.23 1821.48,1104.29 1815.84,1099.31 1810.19,1094.31 1804.51,1089.27 1798.82,1084.2 1793.1,1079.11 1787.37,1073.98 1781.61,1068.82 1775.83,1063.63 1770.03,1058.4 1764.21,1053.14 1758.37,1047.85 1752.5,1042.52 1746.61,1037.16 1740.71,1031.76 1734.77,1026.33 1728.82,1020.87 1722.84,1015.36 1716.84,1009.82 1710.82,1004.24 1704.77,998.63 1698.7,992.98 1692.6,987.28 1686.48,981.55 1680.34,975.78 1674.17,969.97 1667.97,964.11 1661.75,958.22 1655.5,952.28 1649.23,946.3 1642.93,940.28 1636.61,934.21 1630.26,928.09 1623.88,921.94 1617.47,915.73 1611.04,909.48 1604.58,903.18 1598.09,896.84 1591.57,890.44 1585.02,883.99 1578.44,877.5 1571.83,870.95 1565.2,864.35 1558.53,857.7 1551.83,850.99 1545.1,844.23 1538.34,837.41 1531.55,830.54 1524.72,823.61 1517.86,816.62 1510.97,809.57 1504.05,802.46 1497.09,795.29 1490.1,788.05 1483.07,780.75 1476.01,773.39 1468.91,765.96 1461.78,758.47 1454.61,750.9 1447.4,743.27 1440.16,735.56 1432.87,727.79 1425.55,719.94 1418.19,712.01 1410.79,704.01 1403.35,695.93 1395.87,687.77 1388.34,679.52 1380.78,671.2 1373.17,662.79 1365.52,654.3 1357.83,645.71 1350.09,637.04 1342.31,628.27 1334.48,619.42 1326.6,610.46 1318.68,601.41 1310.71,592.26 1302.69,583 1294.62,573.64 1286.5,564.18 1278.32,554.6 1270.1,544.91 1261.83,535.11 1253.5,525.19 1245.11,515.15 1236.67,504.99 1228.18,494.7 1219.62,484.28 1211.01,473.73 1202.34,463.04 1193.61,452.21 1184.82,441.24 1175.96,430.13 1167.04,418.86 1158.05,407.43 1149,395.85 1139.88,384.1 1130.69,372.18 1121.44,360.09 1112.1,347.82 1102.7,335.36 1093.22,322.72 1083.67,309.88 1074.03,296.83 1064.32,283.58 1054.53,270.11 1044.65,256.42 1034.69,242.5 1024.64,228.34 1014.5,213.93 1004.27,199.27 993.95,184.35 983.54,169.15 973.02,153.67 962.41,137.89 951.69,121.81 940.87,105.41" stroke="#FFAA00"/>
<polyline points="2210.02,1317.39 2205,1313.54 2199.98,1309.68 2194.94,1305.8 2189.88,1301.91 2184.82,1297.99 2179.73,1294.06 2174.63,1290.1 2169.52,1286.13 2164.39,1282.14 2159.25,1278.13 2154.09,1274.1 2148.92,1270.05 2143.73,1265.98 2138.53,1261.88 2133.31,1257.77 2128.08,1253.64 2122.83,1249.49 2117.56,1245.32 2112.28,1241.12 2106.98,1236.91 2101.67,1232.67 2096.34,1228.41 2090.99,1224.13 2085.63,1219.83 2080.25,1215.51 2074.85,1211.16 2069.43,1206.79 2064,1202.39 2058.55,1197.98 2053.09,1193.53 2047.6,1189.07 2042.1,1184.58 2036.58,1180.07 2031.05,1175.53 2025.49,1170.96 2019.92,1166.38 2014.32,1161.76 2008.71,1157.12 2003.08,1152.45 1997.43,1147.76 1991.77,1143.04 1986.08,1138.3 1980.37,1133.52 1974.65,1128.72 1968.9,1123.89 1963.13,1119.03 1957.35,1114.15 1951.54,1109.23 1945.72,1104.29 1939.87,1099.31 1934,1094.31 1928.11,1089.27 1922.2,1084.2 1916.27,1079.11 1910.31,1073.98 1904.34,1068.82 1898.34,1063.63 1892.32,1058.4 1886.28,1053.14 1880.21,1047.85 1874.12,1042.52 1868.01,1037.16 1861.88,1031.76 1855.72,1026.33 1849.54,1020.87 1843.33,1015.36 1837.1,1009.82 1830.85,1004.24 1824.57,998.63 1818.26,992.98 1811.93,987.28 1805.58,981.55 1799.19,975.78 1792.79,969.97 1786.35,964.11 1779.89,958.22 1773.4,952.28 1766.89,946.3 1760.35,940.28 1753.78,934.21 1747.18,928.09 1740.55,921.94 1733.9,915.73 1727.21,909.48 1720.5,903.18 1713.75,896.84 1706.98,890.44 1700.17,883.99 1693.34,877.5 1686.47,870.95 1679.58,864.35 1672.65,857.7 1665.68,850.99 1658.69,844.23 1651.66,837.41 1644.6,830.54 1637.51,823.61 1630.38,816.62 1623.22,809.57 1616.02,802.46 1608.78,795.29 1601.51,788.05 1594.2,780.75 1586.86,773.39 1579.48,765.96 1572.06,758.47 1564.6,750.9 1557.11,743.27 1549.57,735.56 1542,727.79 1534.38,719.94 1526.72,712.01 1519.02,704.01 1511.28,695.93 1503.5,687.77 1495.67,679.52 1487.8,671.2 1479.88,662.79 1471.92,654.3 1463.91,645.71 1455.85,637.04 1447.75,628.27 1439.6,619.42 1431.4,610.46 1423.15,601.41 1414.85,592.26 1406.5,583 1398.09,573.64 1389.64,564.18 1381.13,554.6 1372.56,544.91 1363.94,535.11 1355.26,525.19 1346.53,515.15 1337.73,504.99 1328.88,494.7 1319.96,484.28 1310.99,473.73 1301.95,463.04 1292.85,452.21 1283.68,441.24 1274.44,430.13 1265.14,418.86 1255.77,407.43 1246.33,395.85 1236.82,384.1 1227.23,372.18 1217.57,360.09 1207.84,347.82 1198.02,335.36 1188.13,322.72 1178.15,309.88 1168.1,296.83 1157.96,283.58 1147.73,270.11 1137.41,256.42 1127.01,242.5 1116.51,228.34 1105.92,213.93 1095.23,199.27 1084.44,184.35 1073.55,169.15 1062.56,153.67 1051.46,137.89 1040.25,121.81 1028.93,105.41" stroke="#FFAA00"/>
<polyline points="2343.72,1317.39 2338.53,1313.54 2333.33,1309.68 2328.11,1305.8 2322.88,1301.91 2317.63,1297.99 2312.37,1294.06 2307.09,1290.1 2301.79,1286.13 2296.49,1282.14 2291.16,1278.13 2285.82,1274.1 2280.46,1270.05 2275.09,1265.98 2269.7,1261.88 2264.3,1257.77 2258.88,1253.64 2253.44,1249.49 2247.99,1245.32 2242.52,1241.12 2237.03,1236.91 2231.53,1232.67 2226.01,1228.41 2220.47,1224.13 2214.91,1219.83 2209.34,1215.51 2203.75,1211.16 2198.14,1206.79 2192.51,1202.39 2186.87,1197.98 2181.21,1193.53 2175.53,1189.07 2169.83,1184.58 2164.11,1180.07 2158.37,1175.53 2152.62,1170.96 2146.84,1166.38 2141.05,1161.76 2135.23,1157.12 2129.4,1152.45 2123.55,1147.76 2117.68,1143.04 2111.78,1138.3 2105.87,1133.52 2099.94,1128.72 2093.98,1123.89 2088.01,1119.03 2082.01,1114.15 2075.99,1109.23 2069.95,1104.29 2063.89,1099.31 2057.81,1094.31 2051.71,1089.27 2045.58,1084.2 2039.43,1079.11 2033.26,1073.98 2027.07,1068.82 2020.85,1063.63 2014.61,1058.4 2008.35,1053.14 2002.06,1047.85 1995.75,1042.52 1989.41,1037.16 1983.05,1031.76 1976.67,1026.33 1970.26,1020.87 1963.82,1015.36 1957.36,1009.82 1950.87,1004.24 1944.36,998.63 1937.82,992.98 1931.26,987.28 1924.67,981.55 1918.05,975.78 1911.41,969.97 1904.73,964.11 1898.03,958.22 1891.3,952.28 1884.54,946.3 1877.76,940.28 1870.94,934.21 1864.1,928.09 1857.22,921.94 1850.32,915.73 1843.38,909.48 1836.42,903.18 1829.42,896.84 1822.39,890.44 1815.33,883.99 1808.24,877.5 1801.11,870.95 1793.96,864.35 1786.76,857.7 1779.54,850.99 1772.28,844.23 1764.99,837.41 1757.66,830.54 1750.29,823.61 1742.89,816.62 1735.46,809.57 1727.98,802.46 1720.47,795.29 1712.92,788.05 1705.34,780.75 1697.71,773.39 1690.05,765.96 1682.34,758.47 1674.6,750.9 1666.81,743.27 1658.99,735.56 1651.12,727.79 1643.21,719.94 1635.25,712.01 1627.25,704.01 1619.21,695.93 1611.12,687.77 1602.99,679.52 1594.81,671.2 1586.58,662.79 1578.31,654.3 1569.99,645.71 1561.62,637.04 1553.19,628.27 1544.72,619.42 1536.2,610.46 1527.62,601.41 1518.99,592.26 1510.31,583 1501.57,573.64 1492.78,564.18 1483.93,554.6 1475.02,544.91 1466.05,535.11 1457.03,525.19 1447.94,515.15 1438.79,504.99 1429.58,494.7 1420.3,484.28 1410.96,473.73 1401.56,463.04 1392.08,452.21 1382.54,441.24 1372.93,430.13 1363.25,418.86 1353.49,407.43 1343.66,395.85 1333.75,384.1 1323.77,372.18 1313.71,360.09 1303.57,347.82 1293.34,335.36 1283.03,322.72 1272.64,309.88 1262.16,296.83 1251.59,283.58 1240.93,270.11 1230.18,256.42 1219.33,242.5 1208.38,228.34 1197.33,213.93 1186.18,199.27 1174.93,184.35 1163.57,169.15 1152.09,153.67 1140.51,137.89 1128.81,121.81 1116.99,105.41" stroke="#FFAA00"/>
<polyline points="2477.43,1317.39 2472.06,1313.54 2466.68,1309.68 2461.28,1305.8 2455.87,1301.91 2450.44,1297.99 2445,1294.06 2439.54,1290.1 2434.07,1286.13 2428.58,1282.14 2423.07,1278.13 2417.54,1274.1 2412,1270.05 2406.45,1265.98 2400.88,1261.88 2395.29,1257.77 2389.68,1253.64 2384.05,1249.49 2378.41,1245.32 2372.75,1241.12 2367.08,1236.91 2361.38,1232.67 2355.67,1228.41 2349.94,1224.13 2344.2,1219.83 2338.43,1215.51 2332.65,1211.16 2326.84,1206.79 2321.02,1202.39 2315.18,1197.98 2309.33,1193.53 2303.45,1189.07 2297.55,1184.58 2291.63,1180.07 2285.7,1175.53 2279.74,1170.96 2273.77,1166.38 2267.77,1161.76 2261.76,1157.12 2255.72,1152.45 2249.66,1147.76 2243.58,1143.04 2237.49,1138.3 2231.37,1133.52 2225.22,1128.72 2219.06,1123.89 2212.88,1119.03 2206.67,1114.15 2200.44,1109.23 2194.19,1104.29 2187.92,1099.31 2181.62,1094.31 2175.3,1089.27 2168.96,1084.2 2162.6,1079.11 2156.21,1073.98 2149.8,1068.82 2143.36,1063.63 2136.9,1058.4 2130.41,1053.14 2123.9,1047.85 2117.37,1042.52 2110.81,1037.16 2104.22,1031.76 2097.61,1026.33 2090.97,1020.87 2084.31,1015.36 2077.62,1009.82 2070.9,1004.24 2064.16,998.63 2057.39,992.98 2050.59,987.28 2043.76,981.55 2036.91,975.78 2030.02,969.97 2023.11,964.11 2016.17,958.22 2009.2,952.28 2002.2,946.3 1995.17,940.28 1988.11,934.21 1981.02,928.09 1973.9,921.94 1966.74,915.73 1959.56,909.48 1952.34,903.18 1945.09,896.84 1937.8,890.44 1930.49,883.99 1923.14,877.5 1915.75,870.95 1908.34,864.35 1900.88,857.7 1893.39,850.99 1885.87,844.23 1878.31,837.41 1870.71,830.54 1863.08,823.61 1855.41,816.62 1847.7,809.57 1839.95,802.46 1832.16,795.29 1824.34,788.05 1816.47,780.75 1808.56,773.39 1800.61,765.96 1792.62,758.47 1784.59,750.9 1776.52,743.27 1768.4,735.56 1760.24,727.79 1752.03,719.94 1743.78,712.01 1735.49,704.01 1727.14,695.93 1718.75,687.77 1710.31,679.52 1701.83,671.2 1693.29,662.79 1684.7,654.3 1676.07,645.71 1667.38,637.04 1658.64,628.27 1649.84,619.42 1641,610.46 1632.09,601.41 1623.13,592.26 1614.12,583 1605.05,573.64 1595.92,564.18 1586.73,554.6 1577.48,544.91 1568.16,535.11 1558.79,525.19 1549.35,515.15 1539.85,504.99 1530.28,494.7 1520.64,484.28 1510.94,473.73 1501.17,463.04 1491.32,452.21 1481.4,441.24 1471.41,430.13 1461.35,418.86 1451.21,407.43 1440.99,395.85 1430.69,384.1 1420.31,372.18 1409.84,360.09 1399.3,347.82 1388.66,335.36 1377.94,322.72 1367.13,309.88 1356.22,296.83 1345.23,283.58 1334.13,270.11 1322.94,256.42 1311.64,242.5 1300.25,228.34 1288.75,213.93 1277.14,199.27 1265.41,184.35 1253.58,169.15 1241.63,153.67 1229.56,137.89 1217.37,121.81 1205.05,105.41" stroke="#FFAA00"/>
<polyline points="2611.13,1317.39 2605.59,1313.54 2600.03,1309.68 2594.46,1305.8 2588.86,1301.91 2583.26,1297.99 2577.63,1294.06 2572,1290.1 2566.34,1286.13 2560.67,1282.14 2554.98,1278.13 2549.27,1274.1 2543.55,1270.05 2537.81,1265.98 2532.05,1261.88 2526.27,1257.77 2520.48,1253.64 2514.67,1249.49 2508.84,1245.32 2502.99,1241.12 2497.13,1236.91 2491.24,1232.67 2485.34,1228.41 2479.42,1224.13 2473.48,1219.83 2467.52,1215.51 2461.55,1211.16 2455.55,1206.79 2449.53,1202.39 2443.5,1197.98 2437.44,1193.53 2431.37,1189.07 2425.27,1184.58 2419.16,1180.07 2413.02,1175.53 2406.87,1170.96 2400.69,1166.38 2394.49,1161.76 2388.28,1157.12 2382.04,1152.45 2375.78,1147.76 2369.49,1143.04 2363.19,1138.3 2356.86,1133.52 2350.51,1128.72 2344.14,1123.89 2337.75,1119.03 2331.33,1114.15 2324.89,1109.23 2318.43,1104.29 2311.95,1099.31 2305.44,1094.31 2298.9,1089.27 2292.34,1084.2 2285.76,1079.11 2279.16,1073.98 2272.53,1068.82 2265.87,1063.63 2259.19,1058.4 2252.48,1053.14 2245.75,1047.85 2238.99,1042.52 2232.21,1037.16 2225.39,1031.76 2218.56,1026.33 2211.69,1020.87 2204.8,1015.36 2197.88,1009.82 2190.93,1004.24 2183.96,998.63 2176.95,992.98 2169.92,987.28 2162.86,981.55 2155.76,975.78 2148.64,969.97 2141.49,964.11 2134.31,958.22 2127.1,952.28 2119.86,946.3 2112.58,940.28 2105.28,934.21 2097.94,928.09 2090.57,921.94 2083.16,915.73 2075.73,909.48 2068.26,903.18 2060.76,896.84 2053.22,890.44 2045.65,883.99 2038.04,877.5 2030.39,870.95 2022.72,864.35 2015,857.7 2007.25,850.99 1999.46,844.23 1991.63,837.41 1983.77,830.54 1975.86,823.61 1967.92,816.62 1959.94,809.57 1951.92,802.46 1943.85,795.29 1935.75,788.05 1927.6,780.75 1919.41,773.39 1911.18,765.96 1902.91,758.47 1894.59,750.9 1886.22,743.27 1877.82,735.56 1869.36,727.79 1860.86,719.94 1852.31,712.01 1843.72,704.01 1835.07,695.93 1826.38,687.77 1817.63,679.52 1808.84,671.2 1799.99,662.79 1791.1,654.3 1782.15,645.71 1773.14,637.04 1764.08,628.27 1754.97,619.42 1745.79,610.46 1736.57,601.41 1727.28,592.26 1717.93,583 1708.53,573.64 1699.06,564.18 1689.53,554.6 1679.93,544.91 1670.28,535.11 1660.55,525.19 1650.76,515.15 1640.91,504.99 1630.98,494.7 1620.98,484.28 1610.92,473.73 1600.77,463.04 1590.56,452.21 1580.27,441.24 1569.9,430.13 1559.45,418.86 1548.92,407.43 1538.32,395.85 1527.62,384.1 1516.85,372.18 1505.98,360.09 1495.03,347.82 1483.98,335.36 1472.85,322.72 1461.62,309.88 1450.29,296.83 1438.86,283.58 1427.33,270.11 1415.7,256.42 1403.96,242.5 1392.12,228.34 1380.16,213.93 1368.09,199.27 1355.9,184.35 1343.59,169.15 1331.17,153.67 1318.61,137.89 1305.93,121.81 1293.11,105.41" stroke="#FFAA00"/>
<polyline points="677.44,1317.39 675.74,1309.68 674.02,1301.91 672.27,1294.06 670.5,1286.13 668.7,1278.13 666.87,1270.05 665.01,1261.88 663.12,1253.64 661.19,1245.32 659.23,1236.91 657.23,1228.41 655.19,1219.83 653.11,1211.16 650.99,1202.39 648.82,1193.53 646.6,1184.58 644.33,1175.53 642.02,1166.38 639.64,1157.12 637.21,1147.76 634.72,1138.3 632.16,1128.72 629.54,1119.03 626.85,1109.23 624.09,1099.31 621.25,1089.27 618.33,1079.11 615.33,1068.82 612.24,1058.4 609.06,1047.85 605.79,1037.16 602.41,1026.33 598.93,1015.36 595.35,1004.24 591.65,992.98 587.84,981.55 583.9,969.97 579.84,958.22 575.65,946.3 571.33,934.21 566.86,921.94 562.26,909.48 557.5,896.84 552.55,883.99 547.45,870.95 542.19,857.7 536.78,844.23 531.21,830.54 525.48,816.62 519.57,802.46 513.5,788.05 507.24,773.39 500.81,758.47 494.2,743.27 487.4,727.79 480.41,712.01 473.23,695.93 465.86,679.52 458.29,662.79 450.52,645.71 442.55,628.27 434.38,610.46 426,592.26 417.41,573.64 408.62,554.6 399.61,535.11 390.39,515.15 380.95,494.7 371.3,473.73 361.42,452.21 351.32,430.13 341,407.43 330.45,384.1 319.67,360.09 308.66,335.36 297.42,309.88 285.94,283.58 274.23,256.42 262.27,228.34 250.08,199.27 237.64,169.15 224.97,137.89 212.05,105.41" stroke="#88DD00"/>
<polyline points="726.76,1317.39 725.4,1309.68 724.02,1301.91 722.63,1294.06 721.22,1286.13 719.8,1278.13 718.37,1270.05 716.91,1261.88 715.44,1253.64 713.94,1245.32 712.43,1236.91 710.89,1228.41 709.32,1219.83 707.73,1211.16 706.11,1202.39 704.46,1193.53 702.77,1184.58 701.05,1175.53 699.29,1166.38 697.49,1157.12 695.64,1147.76 693.75,1138.3 691.81,1128.72 689.81,1119.03 687.76,1109.23 685.65,1099.31 683.47,1089.27 681.23,1079.11 678.9,1068.82 676.46,1058.4 673.96,1047.85 671.38,1037.16 668.73,1026.33 666,1015.36 663.18,1004.24 660.28,992.98 657.28,981.55 654.18,969.97 650.97,958.22 647.66,946.3 644.23,934.21 640.68,921.94 637,909.48 633.18,896.84 629.23,883.99 625.13,870.95 620.88,857.7 616.47,844.23 611.89,830.54 607.15,816.62 602.22,802.46 597.1,788.05 591.8,773.39 586.29,758.47 580.58,743.27 574.66,727.79 568.53,712.01 562.17,695.93 555.58,679.52 548.75,662.79 541.69,645.71 534.38,628.27 526.82,610.46 519.01,592.26 510.94,573.64 502.61,554.6 494.01,535.11 485.14,515.15 476,494.7 466.59,473.73 456.89,452.21 446.91,430.13 436.65,407.43 426.09,384.1 415.25,360.09 404.11,335.36 392.67,309.88 380.92,283.58 368.88,256.42 356.52,228.34 343.86,199.27 330.88,169.15 317.58,137.89 303.97,105.41" stroke="#88DD00"/>
<polyline points="776.54,1317.39 775.46,1309.68 774.38,1301.91 773.29,1294.06 772.2,1286.13 771.1,1278.13 769.99,1270.05 768.88,1261.88 767.76,1253.64 766.63,1245.32 765.48,1236.91 764.32,1228.41 763.15,1219.83 761.96,1211.16 760.75,1202.39 759.51,1193.53 758.26,1184.58 756.98,1175.53 755.62,1166.38 754.25,1157.12 752.85,1147.76 751.44,1138.3 750,1128.72 748.53,1119.03 747.04,1109.23 745.51,1099.31 743.95,1089.27 742.35,1079.11 740.71,1068.82 739.03,1058.4 737.3,1047.85 735.52,1037.16 733.69,1026.33 731.79,1015.36 729.84,1004.24 727.82,992.98 725.72,981.55 723.55,969.97 721.3,958.22 718.96,946.3 716.53,934.21 713.99,921.94 711.36,909.48 708.61,896.84 705.74,883.99 702.75,870.95 699.62,857.7 696.36,844.23 692.94,830.54 689.37,816.62 685.63,802.46 681.71,788.05 677.61,773.39 673.32,758.47 668.82,743.27 664.12,727.79 659.18,712.01 654.02,695.93 648.61,679.52 642.95,662.79 637.02,645.71 630.82,628.27 624.34,610.46 617.56,592.26 610.49,573.64 603.1,554.6 595.39,535.11 587.35,515.15 578.98,494.7 570.27,473.73 561.2,452.21 551.78,430.13 542,407.43 531.85,384.1 521.32,360.09 510.42,335.36 499.13,309.88 487.45,283.58 475.37,256.42 462.89,228.34 450.01,199.27 436.72,169.15 423.01,137.89 408.89,105.41" stroke="#88DD00"/>
<polyline points="827.04,1317.39 826.2,1309.68 825.36,1301.91 824.5,1294.06 823.64,1286.13 822.77,1278.13 821.89,1270.05 820.99,1261.88 820.08,1253.64 819.15,1245.32 818.24,1236.91 817.32,1228.41 816.41,1219.83 815.51,1211.16 814.6,1202.39 813.7,1193.53 812.79,1184.58 811.89,1175.53 810.98,1166.38 810.06,1157.12 809.14,1147.76 808.22,1138.3 807.28,1128.72 806.33,1119.03 805.37,1109.23 804.4,1099.31 803.4,1089.27 802.39,1079.11 801.36,1068.82 800.3,1058.4 799.22,1047.85 798.1,1037.16 796.96,1026.33 795.77,1015.36 794.55,1004.24 793.28,992.98 791.97,981.55 790.61,969.97 789.19,958.22 787.72,946.3 786.18,934.21 784.57,921.94 782.89,909.48 781.12,896.84 779.27,883.99 777.33,870.95 775.28,857.7 773.13,844.23 770.87,830.54 768.48,816.62 765.96,802.46 763.3,788.05 760.49,773.39 757.52,758.47 754.38,743.27 751.05,727.79 747.54,712.01 743.81,695.93 739.86,679.52 735.69,662.79 731.26,645.71 726.57,628.27 721.61,610.46 716.35,592.26 710.78,573.64 704.89,554.6 698.65,535.11 692.06,515.15 685.1,494.7 677.74,473.73 669.98,452.21 661.8,430.13 653.18,407.43 644.12,384.1 634.59,360.09 624.59,335.36 614.1,309.88 603.11,283.58 591.61,256.42 579.59,228.34 567.04,199.27 553.95,169.15 540.31,137.89 526.12,105.41" stroke="#88DD00"/>
<polyline points="877.38,1317.39 876.73,1309.68 876.1,1301.91 875.47,1294.06 874.85,1286.13 874.23,1278.13 873.61,1270.05 873,1261.88 872.4,1253.64 871.79,1245.32 871.19,1236.91 870.6,1228.41 870,1219.83 869.4,1211.16 868.8,1202.39 868.2,1193.53 867.59,1184.58 866.98,1175.53 866.36,1166.38 865.77,1157.12 865.2,1147.76 864.63,1138.3 864.07,1128.72 863.51,1119.03 862.94,1109.23 862.38,1099.31 861.81,1089.27 861.24,1079.11 860.66,1068.82 860.07,1058.4 859.48,1047.85 858.87,1037.16 858.25,1026.33 857.62,1015.36 856.96,1004.24 856.29,992.98 855.59,981.55 854.87,969.97 854.12,958.22 853.34,946.3 852.52,934.21 851.66,921.94 850.76,909.48 849.81,896.84 848.81,883.99 847.76,870.95 846.64,857.7 845.45,844.23 844.2,830.54 842.86,816.62 841.44,802.46 839.92,788.05 838.3,773.39 836.57,758.47 834.72,743.27 832.74,727.79 830.63,712.01 828.36,695.93 825.93,679.52 823.32,662.79 820.52,645.71 817.51,628.27 814.29,610.46 810.81,592.26 807.09,573.64 803.09,554.6 798.79,535.11 794.17,515.15 789.2,494.7 783.86,473.73 778.13,452.21 771.98,430.13 765.38,407.43 758.31,384.1 750.73,360.09 742.62,335.36 733.95,309.88 724.69,283.58 714.81,256.42 704.3,228.34 693.11,199.27 681.24,169.15 668.65,137.89 655.33,105.41" stroke="#88DD00"/>
<polyline points="927.54,1317.39 927.15,1309.68 926.78,1301.91 926.41,1294.06 926.06,1286.13 925.71,1278.13 925.37,1270.05 925.04,1261.88 924.72,1253.64 924.4,1245.32 924.09,1236.91 923.79,1228.41 923.49,1219.83 923.2,1211.16 922.92,1202.39 922.64,1193.53 922.36,1184.58 922.09,1175.53 921.82,1166.38 921.55,1157.12 921.28,1147.76 921.01,1138.3 920.75,1128.72 920.48,1119.03 920.21,1109.23 919.93,1099.31 919.65,1089.27 919.37,1079.11 919.07,1068.82 918.78,1058.4 918.52,1047.85 918.28,1037.16 918.03,1026.33 917.79,1015.36 917.54,1004.24 917.3,992.98 917.05,981.55 916.79,969.97 916.53,958.22 916.27,946.3 915.99,934.21 915.7,921.94 915.39,909.48 915.07,896.84 914.72,883.99 914.36,870.95 913.96,857.7 913.54,844.23 913.09,830.54 912.59,816.62 912.06,802.46 911.47,788.05 910.84,773.39 910.15,758.47 909.39,743.27 908.57,727.79 907.66,712.01 906.67,695.93 905.59,679.52 904.4,662.79 903.1,645.71 901.67,628.27 900.1,610.46 898.38,592.26 896.49,573.64 894.42,554.6 892.14,535.11 889.65,515.15 886.9,494.7 883.89,473.73 880.58,452.21 876.94,430.13 872.95,407.43 868.57,384.1 863.76,360.09 858.48,335.36 852.69,309.88 846.35,283.58 839.39,256.42 831.79,228.34 823.47,199.27 814.39,169.15 804.48,137.89 793.71,105.41" stroke="#88DD00"/>
<polyline points="978.11,1317.39 977.94,1309.68 977.78,1301.91 977.63,1294.06 977.49,1286.13 977.36,1278.13 977.25,1270.05 977.14,1261.88 977.04,1253.64 976.95,1245.32 976.87,1236.91 976.8,1228.41 976.74,1219.83 976.69,1211.16 976.65,1202.39 976.62,1193.53 976.59,1184.58 976.58,1175.53 976.57,1166.38 976.57,1157.12 976.57,1147.76 976.59,1138.3 976.61,1128.72 976.63,1119.03 976.67,1109.23 976.71,1099.31 976.75,1089.27 976.8,1079.11 976.85,1068.82 976.9,1058.4 976.96,1047.85 977.02,1037.16 977.08,1026.33 977.15,1015.36 977.21,1004.24 977.27,992.98 977.33,981.55 977.38,969.97 977.43,958.22 977.47,946.3 977.56,934.21 977.66,921.94 977.78,909.48 977.9,896.84 978.03,883.99 978.16,870.95 978.3,857.7 978.43,844.23 978.57,830.54 978.71,816.62 978.84,802.46 978.96,788.05 979.08,773.39 979.18,758.47 979.27,743.27 979.34,727.79 979.39,712.01 979.41,695.93 979.4,679.52 979.36,662.79 979.27,645.71 979.14,628.27 978.94,610.46 978.69,592.26 978.36,573.64 977.94,554.6 977.44,535.11 976.82,515.15 976.08,494.7 975.21,473.73 974.17,452.21 972.96,430.13 971.55,407.43 969.9,384.1 968.01,360.09 965.83,335.36 963.31,309.88 960.41,283.58 957.1,256.42 953.3,228.34 948.97,199.27 944.02,169.15 938.39,137.89 931.98,105.41" stroke="#88DD00"/>
</g>
<g clip-path="url(#fc)" fill="none" stroke-width="1" stroke="#88DD00" stroke-dasharray="4.4 8.6" stroke-dashoffset="0" shape-rendering="crispEdges">
<line x1="334.92" y1="1253.64" x2="583.15" y2="494.7"/>
<line x1="446.54" y1="1253.64" x2="684.55" y2="494.7"/>
<line x1="515.75" y1="1253.64" x2="747.2" y2="494.7"/>
<line x1="607.37" y1="1253.64" x2="829.9" y2="494.7"/>
<line x1="696.26" y1="1253.64" x2="909.86" y2="494.7"/>
<line x1="776.58" y1="1253.64" x2="981.91" y2="494.7"/>
<line x1="882.58" y1="1253.64" x2="1076.72" y2="494.7"/>
</g>
<polygon points="97.5,104.5 1009.5,104.5 1009.5,494.5 1215.5,863.5 1215.5,1294.5 97.5,1294.5" fill="none" stroke="#000" stroke-width="1" shape-rendering="crispEdges"/>
<rect x="97" y="154" width="2" height="108" fill="#14B400"/>
<rect x="97" y="154" width="2" height="1108" fill="#14B400"/>
<line x1="1141.5" y1="104" x2="1141.5" y2="1294" stroke="#000" stroke-width="1" shape-rendering="crispEdges"/>
<rect x="1286" y="104" width="2" height="1191" fill="#000"/>
<rect x="1288" y="1264" width="14" height="2" fill="#000"/>
<rect x="1288" y="1204" width="14" height="2" fill="#000"/>
<rect x="1288" y="1142" width="14" height="2" fill="#000"/>
<rect x="1288" y="1081" width="14" height="2" fill="#000"/>
<rect x="1288" y="1018" width="14" height="2" fill="#000"/>
<rect x="1288" y="954" width="14" height="2" fill="#000"/>
<rect x="1288" y="889" width="14" height="2" fill="#000"/>
<rect x="1288" y="823" width="14" height="2" fill="#000"/>
<rect x="1288" y="756" width="14" height="2" fill="#000"/>
<rect x="1288" y="688" width="14" height="2" fill="#000"/>
<rect x="1288" y="620" width="14" height="2" fill="#000"/>
<rect x="1288" y="550" width="14" height="2" fill="#000"/>
<rect x="1288" y="478" width="14" height="2" fill="#000"/>
<rect x="1288" y="406" width="14" height="2" fill="#000"/>
<rect x="1288" y="332" width="14" height="2" fill="#000"/>
<rect x="1288" y="258" width="14" height="2" fill="#000"/>
<rect x="1288" y="181" width="14" height="2" fill="#000"/>
<text x="47.83" y="68" font-size="33.5" fill="#000" stroke="#000" stroke-width="0.9" stroke-linejoin="round" textLength="266.56" lengthAdjust="spacingAndGlyphs">#10: CapeTownInt</text>
<text x="322.98" y="63.8" font-size="20.1" fill="#000" stroke="#000" stroke-width="0.8" stroke-linejoin="round" textLength="201.09" lengthAdjust="spacingAndGlyphs">-33.97°,18.61° (24,28)</text>
<text x="552.54" y="68" font-size="33.5" fill="#000" stroke="#000" stroke-width="0.9" stroke-linejoin="round" textLength="222.25" lengthAdjust="spacingAndGlyphs">Valid 1400 LST</text>
<text x="783.46" y="65" font-size="24" fill="#000" stroke="#000" stroke-width="0.8" stroke-linejoin="round" textLength="86.11" lengthAdjust="spacingAndGlyphs">(1200Z)</text>
<text x="879.84" y="68" font-size="33.5" fill="#000" stroke="#000" stroke-width="0.9" stroke-linejoin="round" textLength="249.62" lengthAdjust="spacingAndGlyphs">WED 2 Mar 2016</text>
<text x="1137.21" y="65.6" font-size="25.2" fill="#000" stroke="#000" stroke-width="0.8" stroke-linejoin="round" textLength="201.83" lengthAdjust="spacingAndGlyphs">[12hrFcst@0354z]</text>
<text x="463.28" y="98.9" font-size="21.5" fill="#A30036" stroke="#A30036" stroke-width="0.6" stroke-linejoin="round" textLength="461.92" lengthAdjust="spacingAndGlyphs">Plcl=874 Tlcl[C]=14 Shox=8 Pwat[cm]=2 Cape[J]= 39</text>
<text x="84.1" y="100.9" font-size="20.5" fill="#14B400" stroke="#14B400" stroke-width="0.8" stroke-linejoin="round" textLength="27.75" lengthAdjust="spacingAndGlyphs">0.0</text>
<text x="84.1" y="123.7" font-size="20.5" fill="#000" stroke="#000" stroke-width="0.8" stroke-linejoin="round" textLength="27.75" lengthAdjust="spacingAndGlyphs">0.0</text>
<text x="132.07" y="100.9" font-size="20.5" fill="#14B400" stroke="#14B400" stroke-width="0.8" stroke-linejoin="round" textLength="28.76" lengthAdjust="spacingAndGlyphs">0.5</text>
<text x="132.07" y="123.7" font-size="20.5" fill="#000" stroke="#000" stroke-width="0.8" stroke-linejoin="round" textLength="28.76" lengthAdjust="spacingAndGlyphs">0.5</text>
<text x="179.93" y="100.9" font-size="20.5" fill="#14B400" stroke="#14B400" stroke-width="0.8" stroke-linejoin="round" textLength="27.21" lengthAdjust="spacingAndGlyphs">1.0</text>
<text x="179.93" y="123.7" font-size="20.5" fill="#000" stroke="#000" stroke-width="0.8" stroke-linejoin="round" textLength="27.21" lengthAdjust="spacingAndGlyphs">1.0</text>
<text x="84.1" y="1292.9" font-size="20.5" fill="#14B400" stroke="#14B400" stroke-width="0.8" stroke-linejoin="round" textLength="27.75" lengthAdjust="spacingAndGlyphs">0.0</text>
<text x="84.1" y="1314.7" font-size="20.5" fill="#000" stroke="#000" stroke-width="0.8" stroke-linejoin="round" textLength="27.75" lengthAdjust="spacingAndGlyphs">0.0</text>
<text x="132.08" y="1292.9" font-size="20.5" fill="#14B400" stroke="#14B400" stroke-width="0.8" stroke-linejoin="round" textLength="28.33" lengthAdjust="spacingAndGlyphs">0.5</text>
<text x="132.08" y="1314.7" font-size="20.5" fill="#000" stroke="#000" stroke-width="0.8" stroke-linejoin="round" textLength="28.33" lengthAdjust="spacingAndGlyphs">0.5</text>
<text x="181.81" y="1292.9" font-size="20.5" fill="#14B400" stroke="#14B400" stroke-width="0.8" stroke-linejoin="round" textLength="25.68" lengthAdjust="spacingAndGlyphs">1.0</text>
<text x="181.81" y="1314.7" font-size="20.5" fill="#000" stroke="#000" stroke-width="0.8" stroke-linejoin="round" textLength="25.68" lengthAdjust="spacingAndGlyphs">1.0</text>
<text x="219.41" y="1292.9" font-size="21.5" fill="#14B400" stroke="#14B400" stroke-width="0.8" stroke-linejoin="round" textLength="162.95" lengthAdjust="spacingAndGlyphs">CloudWater (g/Kg)</text>
<text x="219.42" y="1314.7" font-size="21.5" fill="#000" stroke="#000" stroke-width="0.8" stroke-linejoin="round" textLength="195.15" lengthAdjust="spacingAndGlyphs">Grid-Scale Cloudiness</text>
<text x="33.61" y="114.8" font-size="26.9" fill="#000" stroke="#000" stroke-width="0.8" stroke-linejoin="round" textLength="46.36" lengthAdjust="spacingAndGlyphs">250</text>
<text x="33.86" y="265.8" font-size="26.9" fill="#000" stroke="#000" stroke-width="0.8" stroke-linejoin="round" textLength="46.1" lengthAdjust="spacingAndGlyphs">300</text>
<text x="34.28" y="503.8" font-size="26.9" fill="#000" stroke="#000" stroke-width="0.8" stroke-linejoin="round" textLength="45.67" lengthAdjust="spacingAndGlyphs">400</text>
<text x="33.79" y="689.3" font-size="26.9" fill="#000" stroke="#000" stroke-width="0.8" stroke-linejoin="round" textLength="46.17" lengthAdjust="spacingAndGlyphs">500</text>
<text x="33.44" y="967.8" font-size="26.9" fill="#000" stroke="#000" stroke-width="0.8" stroke-linejoin="round" textLength="46.54" lengthAdjust="spacingAndGlyphs">700</text>
<text x="33.72" y="1128.7" font-size="26.9" fill="#000" stroke="#000" stroke-width="0.8" stroke-linejoin="round" textLength="46.25" lengthAdjust="spacingAndGlyphs">850</text>
<text x="19.67" y="1263.7" font-size="26.9" fill="#000" stroke="#000" stroke-width="0.8" stroke-linejoin="round" textLength="60.31" lengthAdjust="spacingAndGlyphs">1000</text>
<text transform="translate(31.1 766.8) rotate(-90)" x="-1.99" y="0" font-size="27.6" fill="#000" stroke="#000" stroke-width="0.8" stroke-linejoin="round" textLength="81.39" lengthAdjust="spacingAndGlyphs">P (hPa)</text>
<line x1="145.5" y1="1294" x2="145.5" y2="1309" stroke="#000" stroke-width="1" shape-rendering="crispEdges"/>
<text x="125.89" y="1347.7" font-size="28.3" fill="#000" stroke="#000" stroke-width="0.8" stroke-linejoin="round" textLength="39.25" lengthAdjust="spacingAndGlyphs">-30</text>
<line x1="276.5" y1="1294" x2="276.5" y2="1309" stroke="#000" stroke-width="1" shape-rendering="crispEdges"/>
<text x="256.21" y="1347.7" font-size="28.3" fill="#000" stroke="#000" stroke-width="0.8" stroke-linejoin="round" textLength="40.2" lengthAdjust="spacingAndGlyphs">-20</text>
<line x1="407.5" y1="1294" x2="407.5" y2="1309" stroke="#000" stroke-width="1" shape-rendering="crispEdges"/>
<text x="387.12" y="1347.7" font-size="28.3" fill="#000" stroke="#000" stroke-width="0.8" stroke-linejoin="round" textLength="39.99" lengthAdjust="spacingAndGlyphs">-10</text>
<line x1="538.5" y1="1294" x2="538.5" y2="1309" stroke="#000" stroke-width="1" shape-rendering="crispEdges"/>
<text x="530.02" y="1347.7" font-size="28.3" fill="#000" stroke="#000" stroke-width="0.8" stroke-linejoin="round" textLength="15.96" lengthAdjust="spacingAndGlyphs">0</text>
<line x1="668.5" y1="1294" x2="668.5" y2="1309" stroke="#000" stroke-width="1" shape-rendering="crispEdges"/>
<text x="652.36" y="1347.7" font-size="28.3" fill="#000" stroke="#000" stroke-width="0.8" stroke-linejoin="round" textLength="31.89" lengthAdjust="spacingAndGlyphs">10</text>
<line x1="799.5" y1="1294" x2="799.5" y2="1309" stroke="#000" stroke-width="1" shape-rendering="crispEdges"/>
<text x="783.26" y="1347.7" font-size="28.3" fill="#000" stroke="#000" stroke-width="0.8" stroke-linejoin="round" textLength="32.42" lengthAdjust="spacingAndGlyphs">20</text>
<line x1="930.5" y1="1294" x2="930.5" y2="1309" stroke="#000" stroke-width="1" shape-rendering="crispEdges"/>
<text x="914.49" y="1347.7" font-size="28.3" fill="#000" stroke="#000" stroke-width="0.8" stroke-linejoin="round" textLength="31.92" lengthAdjust="spacingAndGlyphs">30</text>
<line x1="1061.5" y1="1294" x2="1061.5" y2="1309" stroke="#000" stroke-width="1" shape-rendering="crispEdges"/>
<text x="1046.93" y="1347.7" font-size="28.3" fill="#000" stroke="#000" stroke-width="0.8" stroke-linejoin="round" textLength="29.03" lengthAdjust="spacingAndGlyphs">40</text>
<text x="603.45" y="1380" font-size="24.7" fill="#000" stroke="#000" stroke-width="0.8" stroke-linejoin="round" textLength="179.29" lengthAdjust="spacingAndGlyphs">Temperature (C)</text>
<text x="1136.16" y="125.7" font-size="19.8" fill="#14B400" stroke="#14B400" stroke-width="0.8" stroke-linejoin="round" textLength="11.65" lengthAdjust="spacingAndGlyphs">0</text>
<text x="1202.56" y="125.7" font-size="19.8" fill="#14B400" stroke="#14B400" stroke-width="0.8" stroke-linejoin="round" textLength="23.17" lengthAdjust="spacingAndGlyphs">20</text>
<text x="1276.45" y="125.7" font-size="19.8" fill="#14B400" stroke="#14B400" stroke-width="0.8" stroke-linejoin="round" textLength="22.25" lengthAdjust="spacingAndGlyphs">40</text>
<text x="1347.77" y="125.7" font-size="19.8" fill="#14B400" stroke="#14B400" stroke-width="0.8" stroke-linejoin="round" textLength="22.85" lengthAdjust="spacingAndGlyphs">60</text>
<text x="1135.14" y="1292.6" font-size="19.8" fill="#14B400" stroke="#14B400" stroke-width="0.8" stroke-linejoin="round" textLength="12" lengthAdjust="spacingAndGlyphs">0</text>
<text x="1202.37" y="1292.6" font-size="19.8" fill="#14B400" stroke="#14B400" stroke-width="0.8" stroke-linejoin="round" textLength="22.95" lengthAdjust="spacingAndGlyphs">20</text>
<text x="1276.54" y="1292.6" font-size="19.8" fill="#14B400" stroke="#14B400" stroke-width="0.8" stroke-linejoin="round" textLength="22.56" lengthAdjust="spacingAndGlyphs">40</text>
<text x="1348.27" y="1292.6" font-size="19.8" fill="#14B400" stroke="#14B400" stroke-width="0.8" stroke-linejoin="round" textLength="22.85" lengthAdjust="spacingAndGlyphs">60</text>
<text x="1172.01" y="1314.7" font-size="19.9" fill="#14B400" stroke="#14B400" stroke-width="0.8" stroke-linejoin="round" textLength="90.94" lengthAdjust="spacingAndGlyphs">Speed (kt)</text>
<text x="1318.89" y="1274.5" font-size="26.9" fill="#000" stroke="#000" stroke-width="0.8" stroke-linejoin="round" textLength="15.41" lengthAdjust="spacingAndGlyphs">0</text>
<text x="1318.61" y="1214.5" font-size="26.9" fill="#000" stroke="#000" stroke-width="0.8" stroke-linejoin="round" textLength="15.41" lengthAdjust="spacingAndGlyphs">2</text>
<text x="1319.38" y="1152.5" font-size="26.9" fill="#000" stroke="#000" stroke-width="0.8" stroke-linejoin="round" textLength="15.41" lengthAdjust="spacingAndGlyphs">4</text>
<text x="1318.61" y="1091.5" font-size="26.9" fill="#000" stroke="#000" stroke-width="0.8" stroke-linejoin="round" textLength="15.41" lengthAdjust="spacingAndGlyphs">6</text>
<text x="1318.82" y="1028.5" font-size="26.9" fill="#000" stroke="#000" stroke-width="0.8" stroke-linejoin="round" textLength="15.41" lengthAdjust="spacingAndGlyphs">8</text>
<text x="1317.92" y="964.5" font-size="26.9" fill="#000" stroke="#000" stroke-width="0.8" stroke-linejoin="round" textLength="30.82" lengthAdjust="spacingAndGlyphs">10</text>
<text x="1317.92" y="899.5" font-size="26.9" fill="#000" stroke="#000" stroke-width="0.8" stroke-linejoin="round" textLength="30.82" lengthAdjust="spacingAndGlyphs">12</text>
<text x="1317.92" y="833.5" font-size="26.9" fill="#000" stroke="#000" stroke-width="0.8" stroke-linejoin="round" textLength="30.82" lengthAdjust="spacingAndGlyphs">14</text>
<text x="1317.92" y="766.5" font-size="26.9" fill="#000" stroke="#000" stroke-width="0.8" stroke-linejoin="round" textLength="30.82" lengthAdjust="spacingAndGlyphs">16</text>
<text x="1317.92" y="698.5" font-size="26.9" fill="#000" stroke="#000" stroke-width="0.8" stroke-linejoin="round" textLength="30.82" lengthAdjust="spacingAndGlyphs">18</text>
<text x="1318.61" y="630.5" font-size="26.9" fill="#000" stroke="#000" stroke-width="0.8" stroke-linejoin="round" textLength="30.82" lengthAdjust="spacingAndGlyphs">20</text>
<text x="1318.61" y="560.5" font-size="26.9" fill="#000" stroke="#000" stroke-width="0.8" stroke-linejoin="round" textLength="30.82" lengthAdjust="spacingAndGlyphs">22</text>
<text x="1318.61" y="488.5" font-size="26.9" fill="#000" stroke="#000" stroke-width="0.8" stroke-linejoin="round" textLength="30.82" lengthAdjust="spacingAndGlyphs">24</text>
<text x="1318.61" y="416.5" font-size="26.9" fill="#000" stroke="#000" stroke-width="0.8" stroke-linejoin="round" textLength="30.82" lengthAdjust="spacingAndGlyphs">26</text>
<text x="1318.61" y="342.5" font-size="26.9" fill="#000" stroke="#000" stroke-width="0.8" stroke-linejoin="round" textLength="30.82" lengthAdjust="spacingAndGlyphs">28</text>
<text x="1318.96" y="268.5" font-size="26.9" fill="#000" stroke="#000" stroke-width="0.8" stroke-linejoin="round" textLength="30.82" lengthAdjust="spacingAndGlyphs">30</text>
<text x="1318.96" y="191.5" font-size="26.9" fill="#000" stroke="#000" stroke-width="0.8" stroke-linejoin="round" textLength="30.82" lengthAdjust="spacingAndGlyphs">32</text>
<text transform="translate(1238.9 589.4) rotate(90)" x="-2.22" y="0" font-size="31" fill="#000" stroke="#000" stroke-width="0.8" stroke-linejoin="round" textLength="224.22" lengthAdjust="spacingAndGlyphs">Height (1000 Feet)</text>
<g transform="translate(112.3 246.8) rotate(60) scale(14.5) translate(-0.77 0.5)" fill="none" stroke="#FFAA00" stroke-width="0.08" stroke-linejoin="round" stroke-linecap="round"><path transform="translate(0.32 0) scale(1 1) translate(-0.32 0)" d="M0.16,-0.8 C0.26,-0.84 0.32,-0.9 0.36,-1 L0.36,0 M0.16,0 L0.56,0"/><path transform="translate(1.22 0) scale(1.22 1) translate(-0.32 0)" d="M0.32,-1 C0.12,-1 0.04,-0.74 0.04,-0.5 C0.04,-0.26 0.12,0 0.32,0 C0.52,0 0.6,-0.26 0.6,-0.5 C0.6,-0.74 0.52,-1 0.32,-1 Z"/></g>
<g transform="translate(113.3 480) rotate(60) scale(14.5) translate(-0.32 0.5)" fill="none" stroke="#FFAA00" stroke-width="0.08" stroke-linejoin="round" stroke-linecap="round"><path transform="translate(0.32 0) scale(1.22 1) translate(-0.32 0)" d="M0.32,-1 C0.12,-1 0.04,-0.74 0.04,-0.5 C0.04,-0.26 0.12,0 0.32,0 C0.52,0 0.6,-0.26 0.6,-0.5 C0.6,-0.74 0.52,-1 0.32,-1 Z"/></g>
<g transform="translate(114 709) rotate(60) scale(14.5) translate(-1.22 0.5)" fill="none" stroke="#FFAA00" stroke-width="0.08" stroke-linejoin="round" stroke-linecap="round"><path transform="translate(0.32 0) scale(1 1) translate(-0.32 0)" d="M0.1,-0.45 L0.54,-0.45"/><path transform="translate(1.22 0) scale(1 1) translate(-0.32 0)" d="M0.16,-0.8 C0.26,-0.84 0.32,-0.9 0.36,-1 L0.36,0 M0.16,0 L0.56,0"/><path transform="translate(2.12 0) scale(1.22 1) translate(-0.32 0)" d="M0.32,-1 C0.12,-1 0.04,-0.74 0.04,-0.5 C0.04,-0.26 0.12,0 0.32,0 C0.52,0 0.6,-0.26 0.6,-0.5 C0.6,-0.74 0.52,-1 0.32,-1 Z"/></g>
<g transform="translate(110.5 930) rotate(60) scale(14.5) translate(-1.22 0.5)" fill="none" stroke="#FFAA00" stroke-width="0.08" stroke-linejoin="round" stroke-linecap="round"><path transform="translate(0.32 0) scale(1 1) translate(-0.32 0)" d="M0.1,-0.45 L0.54,-0.45"/><path transform="translate(1.22 0) scale(1.22 1) translate(-0.32 0)" d="M0.08,-0.72 C0.06,-0.78 0.12,-1 0.32,-1 C0.5,-1 0.58,-0.86 0.58,-0.72 C0.58,-0.52 0.34,-0.36 0.04,0 L0.6,0 L0.6,-0.1"/><path transform="translate(2.12 0) scale(1.22 1) translate(-0.32 0)" d="M0.32,-1 C0.12,-1 0.04,-0.74 0.04,-0.5 C0.04,-0.26 0.12,0 0.32,0 C0.52,0 0.6,-0.26 0.6,-0.5 C0.6,-0.74 0.52,-1 0.32,-1 Z"/></g>
<g transform="translate(108.8 1154) rotate(60) scale(14.5) translate(-1.22 0.5)" fill="none" stroke="#FFAA00" stroke-width="0.08" stroke-linejoin="round" stroke-linecap="round"><path transform="translate(0.32 0) scale(1 1) translate(-0.32 0)" d="M0.1,-0.45 L0.54,-0.45"/><path transform="translate(1.22 0) scale(1.22 1) translate(-0.32 0)" d="M0.08,-0.84 C0.14,-0.96 0.24,-1 0.34,-1 C0.5,-1 0.56,-0.88 0.56,-0.76 C0.56,-0.62 0.44,-0.54 0.28,-0.54 C0.48,-0.54 0.6,-0.42 0.6,-0.26 C0.6,-0.1 0.48,0 0.32,0 C0.18,0 0.08,-0.06 0.04,-0.16"/><path transform="translate(2.12 0) scale(1.22 1) translate(-0.32 0)" d="M0.32,-1 C0.12,-1 0.04,-0.74 0.04,-0.5 C0.04,-0.26 0.12,0 0.32,0 C0.52,0 0.6,-0.26 0.6,-0.5 C0.6,-0.74 0.52,-1 0.32,-1 Z"/></g>
<g transform="translate(1024.4 340.4) rotate(-43) scale(19) translate(-0.32 0.5)" fill="none" stroke="#FFAA00" stroke-width="0.06" stroke-linejoin="round" stroke-linecap="round"><path transform="translate(0.32 0) scale(1.22 1) translate(-0.32 0)" d="M0.32,-1 C0.12,-1 0.04,-0.74 0.04,-0.5 C0.04,-0.26 0.12,0 0.32,0 C0.52,0 0.6,-0.26 0.6,-0.5 C0.6,-0.74 0.52,-1 0.32,-1 Z"/></g>
<g transform="translate(1058.3 531.4) rotate(-43) scale(19) translate(-0.77 0.5)" fill="none" stroke="#FFAA00" stroke-width="0.06" stroke-linejoin="round" stroke-linecap="round"><path transform="translate(0.32 0) scale(1 1) translate(-0.32 0)" d="M0.16,-0.8 C0.26,-0.84 0.32,-0.9 0.36,-1 L0.36,0 M0.16,0 L0.56,0"/><path transform="translate(1.22 0) scale(1.22 1) translate(-0.32 0)" d="M0.32,-1 C0.12,-1 0.04,-0.74 0.04,-0.5 C0.04,-0.26 0.12,0 0.32,0 C0.52,0 0.6,-0.26 0.6,-0.5 C0.6,-0.74 0.52,-1 0.32,-1 Z"/></g>
<g transform="translate(1126.6 655.7) rotate(-43) scale(19) translate(-0.77 0.5)" fill="none" stroke="#FFAA00" stroke-width="0.06" stroke-linejoin="round" stroke-linecap="round"><path transform="translate(0.32 0) scale(1.22 1) translate(-0.32 0)" d="M0.08,-0.72 C0.06,-0.78 0.12,-1 0.32,-1 C0.5,-1 0.58,-0.86 0.58,-0.72 C0.58,-0.52 0.34,-0.36 0.04,0 L0.6,0 L0.6,-0.1"/><path transform="translate(1.22 0) scale(1.22 1) translate(-0.32 0)" d="M0.32,-1 C0.12,-1 0.04,-0.74 0.04,-0.5 C0.04,-0.26 0.12,0 0.32,0 C0.52,0 0.6,-0.26 0.6,-0.5 C0.6,-0.74 0.52,-1 0.32,-1 Z"/></g>
<g transform="translate(1195.2 778.2) rotate(-43) scale(19) translate(-0.77 0.5)" fill="none" stroke="#FFAA00" stroke-width="0.06" stroke-linejoin="round" stroke-linecap="round"><path transform="translate(0.32 0) scale(1.22 1) translate(-0.32 0)" d="M0.08,-0.84 C0.14,-0.96 0.24,-1 0.34,-1 C0.5,-1 0.56,-0.88 0.56,-0.76 C0.56,-0.62 0.44,-0.54 0.28,-0.54 C0.48,-0.54 0.6,-0.42 0.6,-0.26 C0.6,-0.1 0.48,0 0.32,0 C0.18,0 0.08,-0.06 0.04,-0.16"/><path transform="translate(1.22 0) scale(1.22 1) translate(-0.32 0)" d="M0.32,-1 C0.12,-1 0.04,-0.74 0.04,-0.5 C0.04,-0.26 0.12,0 0.32,0 C0.52,0 0.6,-0.26 0.6,-0.5 C0.6,-0.74 0.52,-1 0.32,-1 Z"/></g>
<g transform="translate(329.3 1272.9) rotate(-67) scale(13) translate(-0.32 0.5)" fill="none" stroke="#88DD00" stroke-width="0.09" stroke-linejoin="round" stroke-linecap="round"><path transform="translate(0.32 0) scale(1 1) translate(-0.32 0)" d="M0.16,-0.8 C0.26,-0.84 0.32,-0.9 0.36,-1 L0.36,0 M0.16,0 L0.56,0"/></g>
<g transform="translate(440.6 1272.9) rotate(-67) scale(13) translate(-0.32 0.5)" fill="none" stroke="#88DD00" stroke-width="0.09" stroke-linejoin="round" stroke-linecap="round"><path transform="translate(0.32 0) scale(1.22 1) translate(-0.32 0)" d="M0.08,-0.72 C0.06,-0.78 0.12,-1 0.32,-1 C0.5,-1 0.58,-0.86 0.58,-0.72 C0.58,-0.52 0.34,-0.36 0.04,0 L0.6,0 L0.6,-0.1"/></g>
<g transform="translate(509.1 1272.9) rotate(-67) scale(13) translate(-0.32 0.5)" fill="none" stroke="#88DD00" stroke-width="0.09" stroke-linejoin="round" stroke-linecap="round"><path transform="translate(0.32 0) scale(1.22 1) translate(-0.32 0)" d="M0.08,-0.84 C0.14,-0.96 0.24,-1 0.34,-1 C0.5,-1 0.56,-0.88 0.56,-0.76 C0.56,-0.62 0.44,-0.54 0.28,-0.54 C0.48,-0.54 0.6,-0.42 0.6,-0.26 C0.6,-0.1 0.48,0 0.32,0 C0.18,0 0.08,-0.06 0.04,-0.16"/></g>
<g transform="translate(601.3 1272.9) rotate(-67) scale(13) translate(-0.32 0.5)" fill="none" stroke="#88DD00" stroke-width="0.09" stroke-linejoin="round" stroke-linecap="round"><path transform="translate(0.32 0) scale(1.22 1) translate(-0.32 0)" d="M0.56,-1 L0.14,-1 L0.08,-0.54 C0.16,-0.6 0.24,-0.62 0.32,-0.62 C0.5,-0.62 0.6,-0.48 0.6,-0.32 C0.6,-0.14 0.48,0 0.3,0 C0.16,0 0.08,-0.06 0.04,-0.16"/></g>
<g transform="translate(690.3 1273.1) rotate(-67) scale(13) translate(-0.32 0.5)" fill="none" stroke="#88DD00" stroke-width="0.09" stroke-linejoin="round" stroke-linecap="round"><path transform="translate(0.32 0) scale(1.22 1) translate(-0.32 0)" d="M0.32,-0.54 C0.16,-0.54 0.08,-0.64 0.08,-0.77 C0.08,-0.9 0.18,-1 0.32,-1 C0.46,-1 0.56,-0.9 0.56,-0.77 C0.56,-0.64 0.48,-0.54 0.32,-0.54 C0.14,-0.54 0.04,-0.42 0.04,-0.27 C0.04,-0.1 0.16,0 0.32,0 C0.48,0 0.6,-0.1 0.6,-0.27 C0.6,-0.42 0.5,-0.54 0.32,-0.54 Z"/></g>
<g transform="translate(771.4 1270.9) rotate(-67) scale(13) translate(-0.77 0.5)" fill="none" stroke="#88DD00" stroke-width="0.09" stroke-linejoin="round" stroke-linecap="round"><path transform="translate(0.32 0) scale(1 1) translate(-0.32 0)" d="M0.16,-0.8 C0.26,-0.84 0.32,-0.9 0.36,-1 L0.36,0 M0.16,0 L0.56,0"/><path transform="translate(1.22 0) scale(1.22 1) translate(-0.32 0)" d="M0.08,-0.72 C0.06,-0.78 0.12,-1 0.32,-1 C0.5,-1 0.58,-0.86 0.58,-0.72 C0.58,-0.52 0.34,-0.36 0.04,0 L0.6,0 L0.6,-0.1"/></g>
<g transform="translate(876.6 1273.1) rotate(-67) scale(13) translate(-0.77 0.5)" fill="none" stroke="#88DD00" stroke-width="0.09" stroke-linejoin="round" stroke-linecap="round"><path transform="translate(0.32 0) scale(1.22 1) translate(-0.32 0)" d="M0.08,-0.72 C0.06,-0.78 0.12,-1 0.32,-1 C0.5,-1 0.58,-0.86 0.58,-0.72 C0.58,-0.52 0.34,-0.36 0.04,0 L0.6,0 L0.6,-0.1"/><path transform="translate(1.22 0) scale(1.22 1) translate(-0.32 0)" d="M0.32,-1 C0.12,-1 0.04,-0.74 0.04,-0.5 C0.04,-0.26 0.12,0 0.32,0 C0.52,0 0.6,-0.26 0.6,-0.5 C0.6,-0.74 0.52,-1 0.32,-1 Z"/></g>
<polyline points="1196.6,154.3 1197.1,185.7 1198.6,271.4 1202.9,300 1206.6,328.6 1218.6,368.6 1241.4,431.4 1244.4,440 1258.6,488.6 1259.5,489.8 1259.5,562.1 1246,664.9 1231.5,729.1 1221.9,770.9 1218.7,815.8 1217.1,880 1215.1,908.6 1201.4,971.4 1181.4,1022.9 1167.1,1065.7 1155.1,1108.6 1153.4,1142.9 1161.4,1177.1 1172.9,1214.3 1182.3,1251.4 1181.4,1258.6 1174.3,1262.9" fill="none" stroke="#14B400" stroke-width="1" shape-rendering="crispEdges"/>
<polyline points="901.86,1262.62 898.4,1258.52 894.92,1254.39 891.44,1250.24 887.94,1246.07 884.44,1241.88 880.92,1237.67 877.4,1233.44 873.87,1229.18 870.33,1224.91 866.77,1220.61 863.21,1216.29 859.64,1211.94 856.06,1207.58 852.46,1203.19 848.86,1198.77 845.25,1194.34 841.62,1189.87 837.99,1185.39 834.34,1180.88 830.69,1176.35 827.02,1171.79 823.34,1167.2 819.66,1162.59 815.96,1157.96 815.73,1157.68" fill="none" stroke="#800080" stroke-width="2" stroke-dasharray="18.2 7.8"/>
<polyline points="616,154.1 625,174.7 640.5,215.9 654.6,258.3 661.8,277.6 675.2,330.4 681.6,376.7 690.6,435.8 695.8,466.7 700.6,492.9 713.4,531.4 725,572.6 741.7,634.3 753.3,680.6 762.3,716.6 770.7,760 781.4,808.6 788.6,834.3 797.1,862.9 807.1,895.7 814.3,924.3 818.6,941.4 820.7,960 818.6,997.1 818.6,1025.4 819.7,1040.9 825.6,1069.1 828.1,1084.6 829.4,1120.6 819.5,1140 814.5,1146 814,1158 815.5,1162 820.2,1171.8 827.3,1183.6 835.9,1199.3 843,1211.1 854,1226.8 865,1241.7 872.8,1250.3 879.1,1255.8 887,1259.8 896.4,1261.3 902,1262.1" fill="none" stroke="#FF0000" stroke-width="3" stroke-linejoin="round" shape-rendering="crispEdges"/>
<polyline points="489.9,154.1 461.1,206.9 456,215.9 430.3,254.4 409.7,284 381.4,330.3 360.3,376.6 360.3,422.8 362.9,458.8 365.8,490.3 358.6,518.6 348.3,557.1 341.9,595.7 337.5,631.7 340.6,654.9 345.7,685.7 350.3,706.3 358.6,732 370.1,769.3 374,798.9 375.3,816.9 372.7,840 370.6,859.6 375.1,902 398.9,928.4 437.4,950.9 478.6,972.1 525.7,995 551.4,1007.9 575,1025 594.3,1042.1 620,1070 641.4,1085 677.9,1108.6 693.9,1122.5 727.1,1134.3 752.9,1145 765.7,1157.9 771.1,1169.6 771.7,1200.7 768.9,1226.4 766.8,1254.3 770.4,1261.8" fill="none" stroke="#0066FF" stroke-width="3" stroke-linejoin="round" shape-rendering="crispEdges"/>
<circle cx="792.5" cy="1262.9" r="5.2" fill="#0066FF"/>
<circle cx="919.5" cy="1262.5" r="5.6" fill="#FF0000"/>
<rect x="1141" y="1110" width="2" height="60" fill="#000"/>
<rect x="1140" y="1170" width="3" height="94" fill="#000"/>
<polygon points="1140,1170 1143,1170 1144,1200 1153.6,1309.8 1150.9,1298 1140,1264" fill="#000"/>
<path d="M1141.5,155 L1098.72,175.64 M1098.72,175.64 L1085.21,166.06 M1102.86,173.64 L1096.11,168.85 M1141.5,218.1 L1097.8,236.72 M1097.8,236.72 L1084.76,226.51 M1102.03,234.91 L1095.51,229.81 M1141.5,276 L1095.3,287.03 M1095.3,287.03 L1084.15,274.78 M1099.77,285.96 L1094.2,279.84 M1141.5,330.4 L1094.03,332.03 M1094.03,332.03 L1085.53,317.82 M1098.63,331.88 L1090.13,317.66 M1141.5,378.3 L1094.09,375.39 M1094.09,375.39 L1086.99,360.42 M1098.68,375.67 L1091.59,360.71 M1141.5,430.4 L1094.3,425.03 M1094.3,425.03 L1087.99,409.72 M1098.87,425.55 L1092.56,410.24 M1103.45,426.07 L1100.29,418.42 M1141.5,492.1 L1094.08,489.37 M1094.08,489.37 L1086.93,474.43 M1098.67,489.63 L1091.52,474.7 M1103.26,489.9 L1096.11,474.96 M1141.5,562.4 L1094.02,561.13 M1094.02,561.13 L1086.41,546.42 M1098.62,561.25 L1091.01,546.54 M1103.21,561.38 L1095.6,546.67 M1141.5,634.3 L1094.01,633.13 M1094.01,633.13 L1086.37,618.43 M1098.61,633.24 L1090.97,618.55 M1103.21,633.35 L1095.57,618.66 M1141.5,704.3 L1094,704.3 M1094,704.3 L1086,689.8 M1098.6,704.3 L1090.6,689.8 M1103.2,704.3 L1099.2,697.05 M1141.5,768.3 L1094,768.3 M1094,768.3 L1086,753.8 M1098.6,768.3 L1090.6,753.8 M1103.2,768.3 L1099.2,761.05 M1141.5,821.4 L1094,821.4 M1094,821.4 L1086,806.9 M1098.6,821.4 L1090.6,806.9 M1141.5,866.1 L1094,865.41 M1094,865.41 L1086.22,850.8 M1098.6,865.48 L1090.81,850.87 M1141.5,901.4 L1094.06,899.06 M1094.06,899.06 L1086.78,884.18 M1098.65,899.28 L1091.38,884.41 M1141.5,929.3 L1094.05,927.15 M1094.05,927.15 L1086.71,912.31 M1098.64,927.36 L1091.31,912.51 M1141.5,951.1 L1094,951.1 M1094,951.1 L1086,936.6 M1098.6,951.1 L1090.6,936.6 M1141.5,972.6 L1094,972.6 M1094,972.6 L1086,958.1 M1098.6,972.6 L1094.6,965.35 M1141.5,991.1 L1094.1,994.19 M1094.1,994.19 L1085.17,980.24 M1098.69,993.89 L1094.23,986.92 M1141.5,1009.3 L1094.25,1014.2 M1094.25,1014.2 L1084.8,1000.6 M1098.83,1013.73 L1094.1,1006.93 M1141.5,1026.1 L1094.53,1033.16 M1094.53,1033.16 L1084.46,1020.01 M1141.5,1041.9 L1095.37,1053.21 M1095.37,1053.21 L1084.14,1041.03 M1141.5,1057.1 L1096.39,1071.97 M1096.39,1071.97 L1084.25,1060.71 M1141.5,1070.7 L1100.07,1093.93 M1104.08,1091.68 L1097.04,1087.31 M1141.5,1084.4 L1107.86,1117.94 M1111.12,1114.69 L1103.17,1112.38 M1141.5,1098 L1120.81,1140.76 M1122.81,1136.62 L1114.55,1137.06 M1141.5,1125.8 L1163.52,1167.89 M1161.39,1163.81 L1156.82,1170.72 M1141.5,1137.1 L1167.16,1177.07 M1164.68,1173.2 L1160.73,1180.48 M1141.5,1151 L1157.3,1195.79 M1155.77,1191.46 L1150.27,1197.64 M1141.5,1110 L1141.5,1157.5 M1141.5,1152.9 L1134.25,1156.9 M1141.5,1163 L1141.67,1210.5 M1141.65,1205.9 L1134.41,1209.93 M1141.5,1173 L1141.91,1220.5 M1141.87,1215.9 L1134.66,1219.96 M1141.5,1184 L1142.16,1231.5 M1142.1,1226.9 L1134.91,1231 M1141.5,1196 L1142.49,1243.49 M1142.4,1238.89 L1135.23,1243.04 M1141.5,1207 L1143.57,1254.45 M1143.37,1249.86 L1136.3,1254.17 M1141.5,1220 L1144.81,1267.38 M1144.49,1262.8 L1137.54,1267.29 M1141.5,1233 L1146.05,1280.28 M1145.61,1275.7 L1138.78,1280.38 M1141.5,1240 L1147.29,1287.15 M1146.73,1282.58 L1140.02,1287.43 M1141.5,1247 L1148.52,1293.98 M1147.84,1289.43 L1141.26,1294.46 M1141.5,1254 L1149.75,1300.78 M1148.95,1296.25 L1142.5,1301.45 M1141.5,1260 L1150.97,1306.55 M1150.05,1302.04 L1143.75,1307.4 M1141.5,1266 L1152.19,1312.28 M1151.15,1307.8 L1144.99,1313.33 M1141.5,1272 L1153.39,1317.99 M1152.24,1313.53 L1146.22,1319.22" fill="none" stroke="#000" stroke-width="1" shape-rendering="crispEdges"/>
</svg></body></html>
